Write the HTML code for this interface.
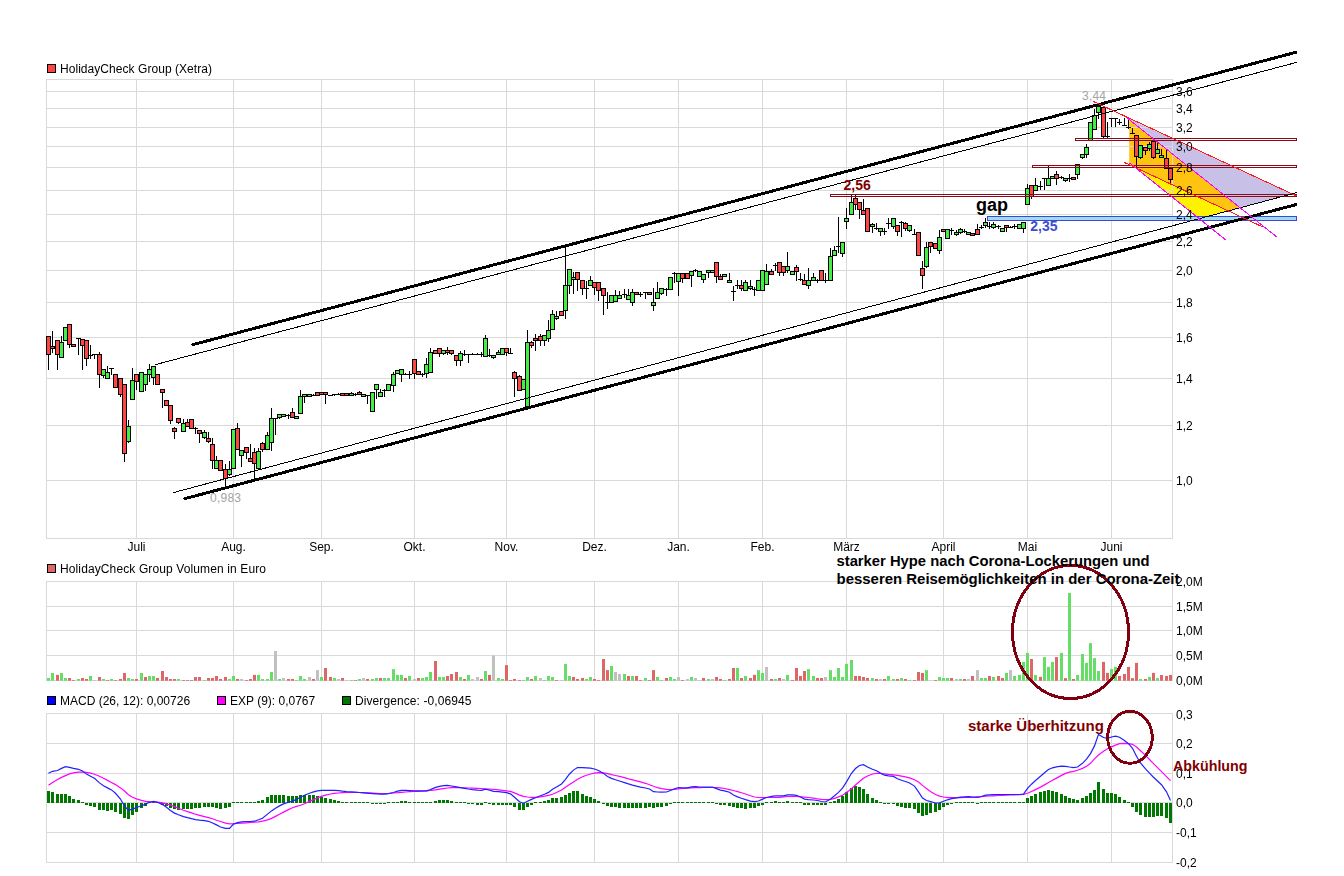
<!DOCTYPE html><html><head><meta charset="utf-8"><style>html,body{margin:0;padding:0;background:#fff;width:1344px;height:876px;overflow:hidden}svg{display:block}text{font-family:"Liberation Sans",sans-serif}</style></head><body><svg width="1344" height="876" viewBox="0 0 1344 876"><rect width="1344" height="876" fill="#fff"/><polygon points="1126.2,117.2 1292.0,193.9 1240.1,207.7" fill="#c8c0e6"/><polygon points="1129.2,119.6 1240.1,207.7 1228.3,210.9 1129.2,164.7" fill="#ffc412"/><polygon points="1129.2,164.7 1228.3,210.9 1199.2,218.7 1129.2,162.6" fill="#fff200"/><rect x="46.5" y="79.5" width="1126.0" height="459" fill="none" stroke="#d9d9d9" stroke-width="1"/><line x1="46.5" y1="91.5" x2="1172.5" y2="91.5" stroke="#d9d9d9" stroke-width="1"/><line x1="46.5" y1="108.5" x2="1172.5" y2="108.5" stroke="#d9d9d9" stroke-width="1"/><line x1="46.5" y1="127.5" x2="1172.5" y2="127.5" stroke="#d9d9d9" stroke-width="1"/><line x1="46.5" y1="146.5" x2="1172.5" y2="146.5" stroke="#d9d9d9" stroke-width="1"/><line x1="46.5" y1="167.5" x2="1172.5" y2="167.5" stroke="#d9d9d9" stroke-width="1"/><line x1="46.5" y1="190.5" x2="1172.5" y2="190.5" stroke="#d9d9d9" stroke-width="1"/><line x1="46.5" y1="214.5" x2="1172.5" y2="214.5" stroke="#d9d9d9" stroke-width="1"/><line x1="46.5" y1="241.5" x2="1172.5" y2="241.5" stroke="#d9d9d9" stroke-width="1"/><line x1="46.5" y1="270.5" x2="1172.5" y2="270.5" stroke="#d9d9d9" stroke-width="1"/><line x1="46.5" y1="302.5" x2="1172.5" y2="302.5" stroke="#d9d9d9" stroke-width="1"/><line x1="46.5" y1="337.5" x2="1172.5" y2="337.5" stroke="#d9d9d9" stroke-width="1"/><line x1="46.5" y1="378.5" x2="1172.5" y2="378.5" stroke="#d9d9d9" stroke-width="1"/><line x1="46.5" y1="425.5" x2="1172.5" y2="425.5" stroke="#d9d9d9" stroke-width="1"/><line x1="46.5" y1="480.5" x2="1172.5" y2="480.5" stroke="#d9d9d9" stroke-width="1"/><line x1="136.5" y1="79" x2="136.5" y2="538" stroke="#d9d9d9" stroke-width="1"/><line x1="233.5" y1="79" x2="233.5" y2="538" stroke="#d9d9d9" stroke-width="1"/><line x1="321.5" y1="79" x2="321.5" y2="538" stroke="#d9d9d9" stroke-width="1"/><line x1="414.5" y1="79" x2="414.5" y2="538" stroke="#d9d9d9" stroke-width="1"/><line x1="506.5" y1="79" x2="506.5" y2="538" stroke="#d9d9d9" stroke-width="1"/><line x1="594.5" y1="79" x2="594.5" y2="538" stroke="#d9d9d9" stroke-width="1"/><line x1="678.5" y1="79" x2="678.5" y2="538" stroke="#d9d9d9" stroke-width="1"/><line x1="762.5" y1="79" x2="762.5" y2="538" stroke="#d9d9d9" stroke-width="1"/><line x1="846.5" y1="79" x2="846.5" y2="538" stroke="#d9d9d9" stroke-width="1"/><line x1="943.5" y1="79" x2="943.5" y2="538" stroke="#d9d9d9" stroke-width="1"/><line x1="1027.5" y1="79" x2="1027.5" y2="538" stroke="#d9d9d9" stroke-width="1"/><line x1="1111.5" y1="79" x2="1111.5" y2="538" stroke="#d9d9d9" stroke-width="1"/><line x1="48.5" y1="336" x2="48.5" y2="370" stroke="#000" stroke-width="1"/><rect x="46.5" y="336.5" width="4" height="18" fill="#ff4444" stroke="#000" stroke-width="1"/><line x1="52.5" y1="331" x2="52.5" y2="353" stroke="#000" stroke-width="1"/><rect x="50.5" y="346.5" width="4" height="2" fill="#ff4444" stroke="#000" stroke-width="1"/><line x1="57.5" y1="340" x2="57.5" y2="370" stroke="#000" stroke-width="1"/><rect x="55.5" y="340.5" width="4" height="14" fill="#ff4444" stroke="#000" stroke-width="1"/><line x1="61.5" y1="336" x2="61.5" y2="358" stroke="#000" stroke-width="1"/><rect x="59.5" y="342.5" width="4" height="15" fill="#44ee44" stroke="#000" stroke-width="1"/><line x1="65.5" y1="327" x2="65.5" y2="341" stroke="#000" stroke-width="1"/><rect x="63.5" y="327.5" width="4" height="13" fill="#44ee44" stroke="#000" stroke-width="1"/><line x1="69.5" y1="324" x2="69.5" y2="348" stroke="#000" stroke-width="1"/><rect x="67.5" y="324.5" width="4" height="20" fill="#ff4444" stroke="#000" stroke-width="1"/><line x1="73.5" y1="344" x2="73.5" y2="347" stroke="#000" stroke-width="1"/><rect x="71.5" y="344.5" width="4" height="2" fill="#ff4444" stroke="#000" stroke-width="1"/><line x1="78.5" y1="338" x2="78.5" y2="355" stroke="#000" stroke-width="1"/><line x1="76" y1="338.5" x2="81" y2="338.5" stroke="#000" stroke-width="1"/><line x1="82.5" y1="339" x2="82.5" y2="370" stroke="#000" stroke-width="1"/><rect x="80.5" y="339.5" width="4" height="6" fill="#ff4444" stroke="#000" stroke-width="1"/><line x1="86.5" y1="340" x2="86.5" y2="366" stroke="#000" stroke-width="1"/><rect x="84.5" y="340.5" width="4" height="18" fill="#ff4444" stroke="#000" stroke-width="1"/><line x1="90.5" y1="345" x2="90.5" y2="359" stroke="#000" stroke-width="1"/><line x1="88" y1="355.5" x2="93" y2="355.5" stroke="#000" stroke-width="1"/><line x1="94.5" y1="354" x2="94.5" y2="359" stroke="#000" stroke-width="1"/><line x1="92" y1="354.5" x2="97" y2="354.5" stroke="#000" stroke-width="1"/><line x1="99.5" y1="352" x2="99.5" y2="388" stroke="#000" stroke-width="1"/><rect x="97.5" y="354.5" width="4" height="20" fill="#ff4444" stroke="#000" stroke-width="1"/><line x1="103.5" y1="369" x2="103.5" y2="378" stroke="#000" stroke-width="1"/><rect x="101.5" y="369.5" width="4" height="6" fill="#44ee44" stroke="#000" stroke-width="1"/><line x1="107.5" y1="366" x2="107.5" y2="379" stroke="#000" stroke-width="1"/><rect x="105.5" y="372.5" width="4" height="6" fill="#44ee44" stroke="#000" stroke-width="1"/><line x1="111.5" y1="368" x2="111.5" y2="375" stroke="#000" stroke-width="1"/><line x1="109" y1="368.5" x2="114" y2="368.5" stroke="#000" stroke-width="1"/><line x1="115.5" y1="374" x2="115.5" y2="388" stroke="#000" stroke-width="1"/><rect x="113.5" y="374.5" width="4" height="13" fill="#ff4444" stroke="#000" stroke-width="1"/><line x1="120.5" y1="378" x2="120.5" y2="397" stroke="#000" stroke-width="1"/><rect x="118.5" y="378.5" width="4" height="16" fill="#ff4444" stroke="#000" stroke-width="1"/><line x1="124.5" y1="384" x2="124.5" y2="462" stroke="#000" stroke-width="1"/><rect x="122.5" y="384.5" width="4" height="69" fill="#ff4444" stroke="#000" stroke-width="1"/><line x1="128.5" y1="420" x2="128.5" y2="443" stroke="#000" stroke-width="1"/><rect x="126.5" y="426.5" width="4" height="15" fill="#44ee44" stroke="#000" stroke-width="1"/><line x1="132.5" y1="368" x2="132.5" y2="400" stroke="#000" stroke-width="1"/><rect x="130.5" y="380.5" width="4" height="19" fill="#44ee44" stroke="#000" stroke-width="1"/><line x1="136.5" y1="374" x2="136.5" y2="390" stroke="#000" stroke-width="1"/><rect x="134.5" y="374.5" width="4" height="7" fill="#ff4444" stroke="#000" stroke-width="1"/><line x1="141.5" y1="372" x2="141.5" y2="392" stroke="#000" stroke-width="1"/><rect x="139.5" y="372.5" width="4" height="19" fill="#44ee44" stroke="#000" stroke-width="1"/><line x1="145.5" y1="374" x2="145.5" y2="391" stroke="#000" stroke-width="1"/><rect x="143.5" y="374.5" width="4" height="10" fill="#44ee44" stroke="#000" stroke-width="1"/><line x1="149.5" y1="364" x2="149.5" y2="382" stroke="#000" stroke-width="1"/><rect x="147.5" y="369.5" width="4" height="5" fill="#44ee44" stroke="#000" stroke-width="1"/><line x1="153.5" y1="366" x2="153.5" y2="385" stroke="#000" stroke-width="1"/><rect x="151.5" y="366.5" width="4" height="11" fill="#44ee44" stroke="#000" stroke-width="1"/><line x1="157.5" y1="374" x2="157.5" y2="385" stroke="#000" stroke-width="1"/><rect x="155.5" y="374.5" width="4" height="10" fill="#ff4444" stroke="#000" stroke-width="1"/><line x1="162.5" y1="389" x2="162.5" y2="408" stroke="#000" stroke-width="1"/><rect x="160.5" y="389.5" width="4" height="3" fill="#ff4444" stroke="#000" stroke-width="1"/><line x1="166.5" y1="400" x2="166.5" y2="406" stroke="#000" stroke-width="1"/><rect x="164.5" y="400.5" width="4" height="5" fill="#ff4444" stroke="#000" stroke-width="1"/><line x1="170.5" y1="405" x2="170.5" y2="424" stroke="#000" stroke-width="1"/><rect x="168.5" y="405.5" width="4" height="15" fill="#ff4444" stroke="#000" stroke-width="1"/><line x1="174.5" y1="427" x2="174.5" y2="439" stroke="#000" stroke-width="1"/><rect x="172.5" y="428.5" width="4" height="3" fill="#ff4444" stroke="#000" stroke-width="1"/><line x1="178.5" y1="418" x2="178.5" y2="424" stroke="#000" stroke-width="1"/><rect x="176.5" y="418.5" width="4" height="4" fill="#ff4444" stroke="#000" stroke-width="1"/><line x1="183.5" y1="419" x2="183.5" y2="432" stroke="#000" stroke-width="1"/><rect x="181.5" y="423.5" width="4" height="8" fill="#44ee44" stroke="#000" stroke-width="1"/><line x1="187.5" y1="419" x2="187.5" y2="427" stroke="#000" stroke-width="1"/><rect x="185.5" y="422.5" width="4" height="4" fill="#ff4444" stroke="#000" stroke-width="1"/><line x1="191.5" y1="419" x2="191.5" y2="429" stroke="#000" stroke-width="1"/><rect x="189.5" y="419.5" width="4" height="9" fill="#ff4444" stroke="#000" stroke-width="1"/><line x1="195.5" y1="427" x2="195.5" y2="434" stroke="#000" stroke-width="1"/><line x1="193" y1="428.5" x2="198" y2="428.5" stroke="#000" stroke-width="1"/><line x1="199.5" y1="430" x2="199.5" y2="443" stroke="#000" stroke-width="1"/><rect x="197.5" y="430.5" width="4" height="3" fill="#ff4444" stroke="#000" stroke-width="1"/><line x1="204.5" y1="430" x2="204.5" y2="439" stroke="#000" stroke-width="1"/><rect x="202.5" y="432.5" width="4" height="5" fill="#44ee44" stroke="#000" stroke-width="1"/><line x1="208.5" y1="432" x2="208.5" y2="443" stroke="#000" stroke-width="1"/><rect x="206.5" y="438.5" width="4" height="3" fill="#ff4444" stroke="#000" stroke-width="1"/><line x1="212.5" y1="438" x2="212.5" y2="469" stroke="#000" stroke-width="1"/><rect x="210.5" y="444.5" width="4" height="16" fill="#ff4444" stroke="#000" stroke-width="1"/><line x1="216.5" y1="456" x2="216.5" y2="469" stroke="#000" stroke-width="1"/><rect x="214.5" y="460.5" width="4" height="8" fill="#44ee44" stroke="#000" stroke-width="1"/><line x1="220.5" y1="460" x2="220.5" y2="471" stroke="#000" stroke-width="1"/><rect x="218.5" y="460.5" width="4" height="10" fill="#ff4444" stroke="#000" stroke-width="1"/><line x1="225.5" y1="464" x2="225.5" y2="487" stroke="#000" stroke-width="1"/><rect x="223.5" y="469.5" width="4" height="9" fill="#ff4444" stroke="#000" stroke-width="1"/><line x1="229.5" y1="461" x2="229.5" y2="476" stroke="#000" stroke-width="1"/><rect x="227.5" y="469.5" width="4" height="5" fill="#44ee44" stroke="#000" stroke-width="1"/><line x1="233.5" y1="429" x2="233.5" y2="469" stroke="#000" stroke-width="1"/><rect x="231.5" y="429.5" width="4" height="39" fill="#44ee44" stroke="#000" stroke-width="1"/><line x1="237.5" y1="423" x2="237.5" y2="450" stroke="#000" stroke-width="1"/><rect x="235.5" y="428.5" width="4" height="21" fill="#ff4444" stroke="#000" stroke-width="1"/><line x1="241.5" y1="450" x2="241.5" y2="467" stroke="#000" stroke-width="1"/><rect x="239.5" y="450.5" width="4" height="5" fill="#44ee44" stroke="#000" stroke-width="1"/><line x1="246.5" y1="447" x2="246.5" y2="459" stroke="#000" stroke-width="1"/><rect x="244.5" y="447.5" width="4" height="5" fill="#ff4444" stroke="#000" stroke-width="1"/><line x1="250.5" y1="444" x2="250.5" y2="462" stroke="#000" stroke-width="1"/><rect x="248.5" y="458.5" width="4" height="3" fill="#ff4444" stroke="#000" stroke-width="1"/><line x1="254.5" y1="448" x2="254.5" y2="479" stroke="#000" stroke-width="1"/><rect x="252.5" y="452.5" width="4" height="11" fill="#ff4444" stroke="#000" stroke-width="1"/><line x1="258.5" y1="448" x2="258.5" y2="470" stroke="#000" stroke-width="1"/><rect x="256.5" y="451.5" width="4" height="17" fill="#44ee44" stroke="#000" stroke-width="1"/><line x1="262.5" y1="442" x2="262.5" y2="452" stroke="#000" stroke-width="1"/><rect x="260.5" y="443.5" width="4" height="6" fill="#ff4444" stroke="#000" stroke-width="1"/><line x1="267.5" y1="432" x2="267.5" y2="450" stroke="#000" stroke-width="1"/><rect x="265.5" y="435.5" width="4" height="14" fill="#44ee44" stroke="#000" stroke-width="1"/><line x1="271.5" y1="408" x2="271.5" y2="451" stroke="#000" stroke-width="1"/><rect x="269.5" y="418.5" width="4" height="24" fill="#44ee44" stroke="#000" stroke-width="1"/><line x1="275.5" y1="418" x2="275.5" y2="435" stroke="#000" stroke-width="1"/><line x1="273" y1="418.5" x2="278" y2="418.5" stroke="#000" stroke-width="1"/><line x1="279.5" y1="414" x2="279.5" y2="419" stroke="#000" stroke-width="1"/><rect x="277.5" y="414.5" width="4" height="3" fill="#44ee44" stroke="#000" stroke-width="1"/><line x1="283.5" y1="414" x2="283.5" y2="416" stroke="#000" stroke-width="1"/><rect x="281.5" y="414.5" width="4" height="2" fill="#44ee44" stroke="#000" stroke-width="1"/><line x1="288.5" y1="414" x2="288.5" y2="419" stroke="#000" stroke-width="1"/><line x1="286" y1="415.5" x2="291" y2="415.5" stroke="#000" stroke-width="1"/><line x1="292.5" y1="408" x2="292.5" y2="418" stroke="#000" stroke-width="1"/><rect x="290.5" y="412.5" width="4" height="5" fill="#ff4444" stroke="#000" stroke-width="1"/><line x1="296.5" y1="416" x2="296.5" y2="419" stroke="#000" stroke-width="1"/><rect x="294.5" y="416.5" width="4" height="2" fill="#44ee44" stroke="#000" stroke-width="1"/><line x1="300.5" y1="390" x2="300.5" y2="414" stroke="#000" stroke-width="1"/><rect x="298.5" y="396.5" width="4" height="17" fill="#44ee44" stroke="#000" stroke-width="1"/><line x1="304.5" y1="394" x2="304.5" y2="403" stroke="#000" stroke-width="1"/><rect x="302.5" y="394.5" width="4" height="2" fill="#44ee44" stroke="#000" stroke-width="1"/><line x1="309.5" y1="394" x2="309.5" y2="396" stroke="#000" stroke-width="1"/><rect x="307.5" y="394.5" width="4" height="2" fill="#44ee44" stroke="#000" stroke-width="1"/><line x1="313.5" y1="394" x2="313.5" y2="396" stroke="#000" stroke-width="1"/><line x1="311" y1="395.5" x2="316" y2="395.5" stroke="#000" stroke-width="1"/><line x1="317.5" y1="392" x2="317.5" y2="396" stroke="#000" stroke-width="1"/><rect x="315.5" y="392.5" width="4" height="3" fill="#ff4444" stroke="#000" stroke-width="1"/><line x1="321.5" y1="392" x2="321.5" y2="394" stroke="#000" stroke-width="1"/><rect x="319.5" y="392.5" width="4" height="2" fill="#ff4444" stroke="#000" stroke-width="1"/><line x1="325.5" y1="392" x2="325.5" y2="404" stroke="#000" stroke-width="1"/><rect x="323.5" y="392.5" width="4" height="2" fill="#ff4444" stroke="#000" stroke-width="1"/><line x1="328" y1="395.5" x2="333" y2="395.5" stroke="#000" stroke-width="1"/><line x1="334.5" y1="394" x2="334.5" y2="396" stroke="#000" stroke-width="1"/><line x1="332" y1="394.5" x2="337" y2="394.5" stroke="#000" stroke-width="1"/><line x1="338.5" y1="393" x2="338.5" y2="395" stroke="#000" stroke-width="1"/><line x1="336" y1="394.5" x2="341" y2="394.5" stroke="#000" stroke-width="1"/><line x1="342.5" y1="393" x2="342.5" y2="396" stroke="#000" stroke-width="1"/><rect x="340.5" y="393.5" width="4" height="2" fill="#ff4444" stroke="#000" stroke-width="1"/><line x1="346.5" y1="393" x2="346.5" y2="396" stroke="#000" stroke-width="1"/><rect x="344.5" y="393.5" width="4" height="2" fill="#ff4444" stroke="#000" stroke-width="1"/><line x1="351.5" y1="392" x2="351.5" y2="395" stroke="#000" stroke-width="1"/><rect x="349.5" y="393.5" width="4" height="2" fill="#44ee44" stroke="#000" stroke-width="1"/><line x1="355.5" y1="393" x2="355.5" y2="396" stroke="#000" stroke-width="1"/><line x1="353" y1="394.5" x2="358" y2="394.5" stroke="#000" stroke-width="1"/><line x1="359.5" y1="391" x2="359.5" y2="395" stroke="#000" stroke-width="1"/><rect x="357.5" y="392.5" width="4" height="2" fill="#ff4444" stroke="#000" stroke-width="1"/><line x1="363.5" y1="394" x2="363.5" y2="396" stroke="#000" stroke-width="1"/><rect x="361.5" y="394.5" width="4" height="2" fill="#44ee44" stroke="#000" stroke-width="1"/><line x1="367.5" y1="395" x2="367.5" y2="404" stroke="#000" stroke-width="1"/><line x1="365" y1="395.5" x2="370" y2="395.5" stroke="#000" stroke-width="1"/><line x1="372.5" y1="392" x2="372.5" y2="412" stroke="#000" stroke-width="1"/><rect x="370.5" y="392.5" width="4" height="19" fill="#44ee44" stroke="#000" stroke-width="1"/><line x1="376.5" y1="384" x2="376.5" y2="399" stroke="#000" stroke-width="1"/><rect x="374.5" y="384.5" width="4" height="5" fill="#44ee44" stroke="#000" stroke-width="1"/><line x1="380.5" y1="389" x2="380.5" y2="397" stroke="#000" stroke-width="1"/><rect x="378.5" y="392.5" width="4" height="4" fill="#44ee44" stroke="#000" stroke-width="1"/><line x1="384.5" y1="389" x2="384.5" y2="397" stroke="#000" stroke-width="1"/><line x1="382" y1="390.5" x2="387" y2="390.5" stroke="#000" stroke-width="1"/><line x1="388.5" y1="384" x2="388.5" y2="391" stroke="#000" stroke-width="1"/><rect x="386.5" y="384.5" width="4" height="6" fill="#44ee44" stroke="#000" stroke-width="1"/><line x1="393.5" y1="372" x2="393.5" y2="392" stroke="#000" stroke-width="1"/><rect x="391.5" y="374.5" width="4" height="11" fill="#44ee44" stroke="#000" stroke-width="1"/><line x1="397.5" y1="370" x2="397.5" y2="374" stroke="#000" stroke-width="1"/><rect x="395.5" y="370.5" width="4" height="3" fill="#44ee44" stroke="#000" stroke-width="1"/><line x1="401.5" y1="369" x2="401.5" y2="382" stroke="#000" stroke-width="1"/><rect x="399.5" y="369.5" width="4" height="5" fill="#44ee44" stroke="#000" stroke-width="1"/><line x1="405.5" y1="373" x2="405.5" y2="375" stroke="#000" stroke-width="1"/><line x1="403" y1="374.5" x2="408" y2="374.5" stroke="#000" stroke-width="1"/><line x1="409.5" y1="371" x2="409.5" y2="379" stroke="#000" stroke-width="1"/><line x1="407" y1="374.5" x2="412" y2="374.5" stroke="#000" stroke-width="1"/><line x1="414.5" y1="359" x2="414.5" y2="379" stroke="#000" stroke-width="1"/><rect x="412.5" y="359.5" width="4" height="14" fill="#ff4444" stroke="#000" stroke-width="1"/><line x1="418.5" y1="371" x2="418.5" y2="375" stroke="#000" stroke-width="1"/><rect x="416.5" y="371.5" width="4" height="3" fill="#ff4444" stroke="#000" stroke-width="1"/><line x1="422.5" y1="373" x2="422.5" y2="377" stroke="#000" stroke-width="1"/><line x1="420" y1="374.5" x2="425" y2="374.5" stroke="#000" stroke-width="1"/><line x1="426.5" y1="358" x2="426.5" y2="378" stroke="#000" stroke-width="1"/><rect x="424.5" y="364.5" width="4" height="9" fill="#44ee44" stroke="#000" stroke-width="1"/><line x1="430.5" y1="348" x2="430.5" y2="373" stroke="#000" stroke-width="1"/><rect x="428.5" y="352.5" width="4" height="20" fill="#44ee44" stroke="#000" stroke-width="1"/><line x1="435.5" y1="350" x2="435.5" y2="354" stroke="#000" stroke-width="1"/><rect x="433.5" y="350.5" width="4" height="3" fill="#ff4444" stroke="#000" stroke-width="1"/><line x1="439.5" y1="348" x2="439.5" y2="357" stroke="#000" stroke-width="1"/><rect x="437.5" y="348.5" width="4" height="5" fill="#ff4444" stroke="#000" stroke-width="1"/><line x1="443.5" y1="350" x2="443.5" y2="355" stroke="#000" stroke-width="1"/><rect x="441.5" y="350.5" width="4" height="3" fill="#44ee44" stroke="#000" stroke-width="1"/><line x1="447.5" y1="347" x2="447.5" y2="355" stroke="#000" stroke-width="1"/><rect x="445.5" y="350.5" width="4" height="2" fill="#ff4444" stroke="#000" stroke-width="1"/><line x1="451.5" y1="350" x2="451.5" y2="355" stroke="#000" stroke-width="1"/><rect x="449.5" y="350.5" width="4" height="3" fill="#ff4444" stroke="#000" stroke-width="1"/><line x1="456.5" y1="355" x2="456.5" y2="366" stroke="#000" stroke-width="1"/><rect x="454.5" y="355.5" width="4" height="5" fill="#ff4444" stroke="#000" stroke-width="1"/><line x1="460.5" y1="351" x2="460.5" y2="366" stroke="#000" stroke-width="1"/><rect x="458.5" y="353.5" width="4" height="7" fill="#44ee44" stroke="#000" stroke-width="1"/><line x1="464.5" y1="350" x2="464.5" y2="356" stroke="#000" stroke-width="1"/><line x1="462" y1="354.5" x2="467" y2="354.5" stroke="#000" stroke-width="1"/><line x1="468.5" y1="354" x2="468.5" y2="363" stroke="#000" stroke-width="1"/><line x1="466" y1="354.5" x2="471" y2="354.5" stroke="#000" stroke-width="1"/><line x1="472.5" y1="353" x2="472.5" y2="355" stroke="#000" stroke-width="1"/><line x1="470" y1="354.5" x2="475" y2="354.5" stroke="#000" stroke-width="1"/><line x1="477.5" y1="353" x2="477.5" y2="355" stroke="#000" stroke-width="1"/><line x1="475" y1="354.5" x2="480" y2="354.5" stroke="#000" stroke-width="1"/><line x1="481.5" y1="352" x2="481.5" y2="357" stroke="#000" stroke-width="1"/><line x1="479" y1="354.5" x2="484" y2="354.5" stroke="#000" stroke-width="1"/><line x1="485.5" y1="335" x2="485.5" y2="357" stroke="#000" stroke-width="1"/><rect x="483.5" y="338.5" width="4" height="18" fill="#44ee44" stroke="#000" stroke-width="1"/><line x1="489.5" y1="349" x2="489.5" y2="357" stroke="#000" stroke-width="1"/><line x1="487" y1="355.5" x2="492" y2="355.5" stroke="#000" stroke-width="1"/><line x1="493.5" y1="355" x2="493.5" y2="359" stroke="#000" stroke-width="1"/><rect x="491.5" y="355.5" width="4" height="2" fill="#44ee44" stroke="#000" stroke-width="1"/><line x1="498.5" y1="350" x2="498.5" y2="355" stroke="#000" stroke-width="1"/><rect x="496.5" y="352.5" width="4" height="2" fill="#44ee44" stroke="#000" stroke-width="1"/><line x1="502.5" y1="348" x2="502.5" y2="355" stroke="#000" stroke-width="1"/><rect x="500.5" y="348.5" width="4" height="6" fill="#44ee44" stroke="#000" stroke-width="1"/><line x1="506.5" y1="348" x2="506.5" y2="356" stroke="#000" stroke-width="1"/><rect x="504.5" y="348.5" width="4" height="4" fill="#ff4444" stroke="#000" stroke-width="1"/><line x1="510.5" y1="348" x2="510.5" y2="354" stroke="#000" stroke-width="1"/><line x1="508" y1="353.5" x2="513" y2="353.5" stroke="#000" stroke-width="1"/><line x1="514.5" y1="371" x2="514.5" y2="397" stroke="#000" stroke-width="1"/><rect x="512.5" y="372.5" width="4" height="6" fill="#ff4444" stroke="#000" stroke-width="1"/><line x1="519.5" y1="375" x2="519.5" y2="391" stroke="#000" stroke-width="1"/><rect x="517.5" y="376.5" width="4" height="14" fill="#ff4444" stroke="#000" stroke-width="1"/><line x1="523.5" y1="379" x2="523.5" y2="390" stroke="#000" stroke-width="1"/><rect x="521.5" y="379.5" width="4" height="10" fill="#44ee44" stroke="#000" stroke-width="1"/><line x1="527.5" y1="330" x2="527.5" y2="407" stroke="#000" stroke-width="1"/><rect x="525.5" y="342.5" width="4" height="64" fill="#44ee44" stroke="#000" stroke-width="1"/><line x1="531.5" y1="341" x2="531.5" y2="348" stroke="#000" stroke-width="1"/><rect x="529.5" y="342.5" width="4" height="3" fill="#ff4444" stroke="#000" stroke-width="1"/><line x1="535.5" y1="334" x2="535.5" y2="351" stroke="#000" stroke-width="1"/><rect x="533.5" y="338.5" width="4" height="2" fill="#ff4444" stroke="#000" stroke-width="1"/><line x1="540.5" y1="334" x2="540.5" y2="346" stroke="#000" stroke-width="1"/><rect x="538.5" y="336.5" width="4" height="4" fill="#ff4444" stroke="#000" stroke-width="1"/><line x1="544.5" y1="335" x2="544.5" y2="346" stroke="#000" stroke-width="1"/><rect x="542.5" y="335.5" width="4" height="5" fill="#44ee44" stroke="#000" stroke-width="1"/><line x1="548.5" y1="320" x2="548.5" y2="342" stroke="#000" stroke-width="1"/><rect x="546.5" y="330.5" width="4" height="8" fill="#44ee44" stroke="#000" stroke-width="1"/><line x1="552.5" y1="310" x2="552.5" y2="330" stroke="#000" stroke-width="1"/><rect x="550.5" y="314.5" width="4" height="15" fill="#44ee44" stroke="#000" stroke-width="1"/><line x1="556.5" y1="311" x2="556.5" y2="320" stroke="#000" stroke-width="1"/><rect x="554.5" y="316.5" width="4" height="2" fill="#44ee44" stroke="#000" stroke-width="1"/><line x1="561.5" y1="311" x2="561.5" y2="316" stroke="#000" stroke-width="1"/><rect x="559.5" y="311.5" width="4" height="4" fill="#ff4444" stroke="#000" stroke-width="1"/><line x1="565.5" y1="247" x2="565.5" y2="319" stroke="#000" stroke-width="1"/><rect x="563.5" y="285.5" width="4" height="25" fill="#44ee44" stroke="#000" stroke-width="1"/><line x1="569.5" y1="269" x2="569.5" y2="294" stroke="#000" stroke-width="1"/><rect x="567.5" y="269.5" width="4" height="16" fill="#44ee44" stroke="#000" stroke-width="1"/><line x1="573.5" y1="272" x2="573.5" y2="294" stroke="#000" stroke-width="1"/><rect x="571.5" y="277.5" width="4" height="2" fill="#44ee44" stroke="#000" stroke-width="1"/><line x1="577.5" y1="272" x2="577.5" y2="291" stroke="#000" stroke-width="1"/><rect x="575.5" y="272.5" width="4" height="7" fill="#ff4444" stroke="#000" stroke-width="1"/><line x1="582.5" y1="280" x2="582.5" y2="295" stroke="#000" stroke-width="1"/><rect x="580.5" y="280.5" width="4" height="8" fill="#ff4444" stroke="#000" stroke-width="1"/><line x1="586.5" y1="281" x2="586.5" y2="299" stroke="#000" stroke-width="1"/><line x1="584" y1="288.5" x2="589" y2="288.5" stroke="#000" stroke-width="1"/><line x1="590.5" y1="276" x2="590.5" y2="286" stroke="#000" stroke-width="1"/><rect x="588.5" y="280.5" width="4" height="5" fill="#44ee44" stroke="#000" stroke-width="1"/><line x1="594.5" y1="282" x2="594.5" y2="295" stroke="#000" stroke-width="1"/><rect x="592.5" y="282.5" width="4" height="5" fill="#ff4444" stroke="#000" stroke-width="1"/><line x1="598.5" y1="282" x2="598.5" y2="301" stroke="#000" stroke-width="1"/><rect x="596.5" y="282.5" width="4" height="8" fill="#ff4444" stroke="#000" stroke-width="1"/><line x1="603.5" y1="288" x2="603.5" y2="315" stroke="#000" stroke-width="1"/><rect x="601.5" y="288.5" width="4" height="7" fill="#ff4444" stroke="#000" stroke-width="1"/><line x1="607.5" y1="292" x2="607.5" y2="309" stroke="#000" stroke-width="1"/><line x1="605" y1="302.5" x2="610" y2="302.5" stroke="#000" stroke-width="1"/><line x1="611.5" y1="295" x2="611.5" y2="303" stroke="#000" stroke-width="1"/><rect x="609.5" y="295.5" width="4" height="7" fill="#44ee44" stroke="#000" stroke-width="1"/><line x1="615.5" y1="290" x2="615.5" y2="302" stroke="#000" stroke-width="1"/><rect x="613.5" y="295.5" width="4" height="6" fill="#44ee44" stroke="#000" stroke-width="1"/><line x1="619.5" y1="291" x2="619.5" y2="299" stroke="#000" stroke-width="1"/><rect x="617.5" y="295.5" width="4" height="3" fill="#44ee44" stroke="#000" stroke-width="1"/><line x1="624.5" y1="289" x2="624.5" y2="298" stroke="#000" stroke-width="1"/><line x1="622" y1="294.5" x2="627" y2="294.5" stroke="#000" stroke-width="1"/><line x1="628.5" y1="289" x2="628.5" y2="300" stroke="#000" stroke-width="1"/><rect x="626.5" y="295.5" width="4" height="4" fill="#44ee44" stroke="#000" stroke-width="1"/><line x1="632.5" y1="289" x2="632.5" y2="306" stroke="#000" stroke-width="1"/><rect x="630.5" y="292.5" width="4" height="10" fill="#44ee44" stroke="#000" stroke-width="1"/><line x1="636.5" y1="292" x2="636.5" y2="294" stroke="#000" stroke-width="1"/><rect x="634.5" y="292.5" width="4" height="2" fill="#ff4444" stroke="#000" stroke-width="1"/><line x1="640.5" y1="292" x2="640.5" y2="297" stroke="#000" stroke-width="1"/><line x1="638" y1="294.5" x2="643" y2="294.5" stroke="#000" stroke-width="1"/><line x1="645.5" y1="292" x2="645.5" y2="299" stroke="#000" stroke-width="1"/><line x1="643" y1="292.5" x2="648" y2="292.5" stroke="#000" stroke-width="1"/><line x1="649.5" y1="292" x2="649.5" y2="294" stroke="#000" stroke-width="1"/><rect x="647.5" y="292.5" width="4" height="2" fill="#ff4444" stroke="#000" stroke-width="1"/><line x1="653.5" y1="288" x2="653.5" y2="311" stroke="#000" stroke-width="1"/><rect x="651.5" y="302.5" width="4" height="3" fill="#44ee44" stroke="#000" stroke-width="1"/><line x1="657.5" y1="282" x2="657.5" y2="299" stroke="#000" stroke-width="1"/><rect x="655.5" y="292.5" width="4" height="6" fill="#44ee44" stroke="#000" stroke-width="1"/><line x1="661.5" y1="288" x2="661.5" y2="295" stroke="#000" stroke-width="1"/><rect x="659.5" y="288.5" width="4" height="5" fill="#44ee44" stroke="#000" stroke-width="1"/><line x1="666.5" y1="288" x2="666.5" y2="296" stroke="#000" stroke-width="1"/><line x1="664" y1="289.5" x2="669" y2="289.5" stroke="#000" stroke-width="1"/><line x1="670.5" y1="277" x2="670.5" y2="290" stroke="#000" stroke-width="1"/><rect x="668.5" y="277.5" width="4" height="12" fill="#44ee44" stroke="#000" stroke-width="1"/><line x1="674.5" y1="272" x2="674.5" y2="283" stroke="#000" stroke-width="1"/><line x1="672" y1="273.5" x2="677" y2="273.5" stroke="#000" stroke-width="1"/><line x1="678.5" y1="273" x2="678.5" y2="296" stroke="#000" stroke-width="1"/><rect x="676.5" y="273.5" width="4" height="8" fill="#44ee44" stroke="#000" stroke-width="1"/><line x1="682.5" y1="273" x2="682.5" y2="283" stroke="#000" stroke-width="1"/><rect x="680.5" y="273.5" width="4" height="5" fill="#ff4444" stroke="#000" stroke-width="1"/><line x1="687.5" y1="273" x2="687.5" y2="279" stroke="#000" stroke-width="1"/><rect x="685.5" y="273.5" width="4" height="5" fill="#ff4444" stroke="#000" stroke-width="1"/><line x1="691.5" y1="271" x2="691.5" y2="287" stroke="#000" stroke-width="1"/><rect x="689.5" y="271.5" width="4" height="4" fill="#44ee44" stroke="#000" stroke-width="1"/><line x1="695.5" y1="269" x2="695.5" y2="272" stroke="#000" stroke-width="1"/><line x1="693" y1="270.5" x2="698" y2="270.5" stroke="#000" stroke-width="1"/><line x1="699.5" y1="271" x2="699.5" y2="277" stroke="#000" stroke-width="1"/><rect x="697.5" y="271.5" width="4" height="5" fill="#44ee44" stroke="#000" stroke-width="1"/><line x1="703.5" y1="274" x2="703.5" y2="283" stroke="#000" stroke-width="1"/><rect x="701.5" y="274.5" width="4" height="5" fill="#44ee44" stroke="#000" stroke-width="1"/><line x1="708.5" y1="270" x2="708.5" y2="278" stroke="#000" stroke-width="1"/><rect x="706.5" y="270.5" width="4" height="2" fill="#44ee44" stroke="#000" stroke-width="1"/><line x1="712.5" y1="270" x2="712.5" y2="273" stroke="#000" stroke-width="1"/><rect x="710.5" y="270.5" width="4" height="2" fill="#44ee44" stroke="#000" stroke-width="1"/><line x1="716.5" y1="262" x2="716.5" y2="283" stroke="#000" stroke-width="1"/><rect x="714.5" y="262.5" width="4" height="14" fill="#ff4444" stroke="#000" stroke-width="1"/><line x1="720.5" y1="274" x2="720.5" y2="280" stroke="#000" stroke-width="1"/><rect x="718.5" y="276.5" width="4" height="3" fill="#ff4444" stroke="#000" stroke-width="1"/><line x1="724.5" y1="274" x2="724.5" y2="277" stroke="#000" stroke-width="1"/><rect x="722.5" y="274.5" width="4" height="2" fill="#44ee44" stroke="#000" stroke-width="1"/><line x1="729.5" y1="273" x2="729.5" y2="283" stroke="#000" stroke-width="1"/><rect x="727.5" y="280.5" width="4" height="2" fill="#44ee44" stroke="#000" stroke-width="1"/><line x1="733.5" y1="286" x2="733.5" y2="301" stroke="#000" stroke-width="1"/><line x1="731" y1="291.5" x2="736" y2="291.5" stroke="#000" stroke-width="1"/><line x1="737.5" y1="280" x2="737.5" y2="289" stroke="#000" stroke-width="1"/><line x1="735" y1="285.5" x2="740" y2="285.5" stroke="#000" stroke-width="1"/><line x1="741.5" y1="280" x2="741.5" y2="291" stroke="#000" stroke-width="1"/><rect x="739.5" y="285.5" width="4" height="3" fill="#ff4444" stroke="#000" stroke-width="1"/><line x1="745.5" y1="280" x2="745.5" y2="291" stroke="#000" stroke-width="1"/><rect x="743.5" y="282.5" width="4" height="8" fill="#44ee44" stroke="#000" stroke-width="1"/><line x1="750.5" y1="280" x2="750.5" y2="290" stroke="#000" stroke-width="1"/><rect x="748.5" y="286.5" width="4" height="2" fill="#44ee44" stroke="#000" stroke-width="1"/><line x1="754.5" y1="287" x2="754.5" y2="296" stroke="#000" stroke-width="1"/><line x1="752" y1="289.5" x2="757" y2="289.5" stroke="#000" stroke-width="1"/><line x1="758.5" y1="280" x2="758.5" y2="291" stroke="#000" stroke-width="1"/><rect x="756.5" y="280.5" width="4" height="10" fill="#44ee44" stroke="#000" stroke-width="1"/><line x1="762.5" y1="270" x2="762.5" y2="291" stroke="#000" stroke-width="1"/><rect x="760.5" y="270.5" width="4" height="20" fill="#44ee44" stroke="#000" stroke-width="1"/><line x1="766.5" y1="264" x2="766.5" y2="285" stroke="#000" stroke-width="1"/><rect x="764.5" y="271.5" width="4" height="13" fill="#44ee44" stroke="#000" stroke-width="1"/><line x1="771.5" y1="269" x2="771.5" y2="275" stroke="#000" stroke-width="1"/><rect x="769.5" y="271.5" width="4" height="3" fill="#ff4444" stroke="#000" stroke-width="1"/><line x1="775.5" y1="263" x2="775.5" y2="271" stroke="#000" stroke-width="1"/><line x1="773" y1="265.5" x2="778" y2="265.5" stroke="#000" stroke-width="1"/><line x1="779.5" y1="262" x2="779.5" y2="276" stroke="#000" stroke-width="1"/><rect x="777.5" y="262.5" width="4" height="10" fill="#ff4444" stroke="#000" stroke-width="1"/><line x1="783.5" y1="266" x2="783.5" y2="276" stroke="#000" stroke-width="1"/><rect x="781.5" y="266.5" width="4" height="6" fill="#ff4444" stroke="#000" stroke-width="1"/><line x1="787.5" y1="252" x2="787.5" y2="273" stroke="#000" stroke-width="1"/><rect x="785.5" y="266.5" width="4" height="4" fill="#44ee44" stroke="#000" stroke-width="1"/><line x1="792.5" y1="271" x2="792.5" y2="275" stroke="#000" stroke-width="1"/><rect x="790.5" y="271.5" width="4" height="3" fill="#44ee44" stroke="#000" stroke-width="1"/><line x1="796.5" y1="265" x2="796.5" y2="281" stroke="#000" stroke-width="1"/><rect x="794.5" y="267.5" width="4" height="4" fill="#ff4444" stroke="#000" stroke-width="1"/><line x1="800.5" y1="273" x2="800.5" y2="281" stroke="#000" stroke-width="1"/><line x1="798" y1="279.5" x2="803" y2="279.5" stroke="#000" stroke-width="1"/><line x1="804.5" y1="274" x2="804.5" y2="285" stroke="#000" stroke-width="1"/><rect x="802.5" y="280.5" width="4" height="4" fill="#ff4444" stroke="#000" stroke-width="1"/><line x1="808.5" y1="268" x2="808.5" y2="289" stroke="#000" stroke-width="1"/><rect x="806.5" y="280.5" width="4" height="5" fill="#44ee44" stroke="#000" stroke-width="1"/><line x1="813.5" y1="273" x2="813.5" y2="281" stroke="#000" stroke-width="1"/><rect x="811.5" y="277.5" width="4" height="3" fill="#44ee44" stroke="#000" stroke-width="1"/><line x1="817.5" y1="279" x2="817.5" y2="283" stroke="#000" stroke-width="1"/><line x1="815" y1="280.5" x2="820" y2="280.5" stroke="#000" stroke-width="1"/><line x1="821.5" y1="270" x2="821.5" y2="281" stroke="#000" stroke-width="1"/><rect x="819.5" y="270.5" width="4" height="10" fill="#ff4444" stroke="#000" stroke-width="1"/><line x1="825.5" y1="273" x2="825.5" y2="283" stroke="#000" stroke-width="1"/><line x1="823" y1="280.5" x2="828" y2="280.5" stroke="#000" stroke-width="1"/><line x1="830.5" y1="248" x2="830.5" y2="281" stroke="#000" stroke-width="1"/><rect x="828.5" y="256.5" width="4" height="24" fill="#44ee44" stroke="#000" stroke-width="1"/><line x1="834.5" y1="246" x2="834.5" y2="256" stroke="#000" stroke-width="1"/><rect x="832.5" y="250.5" width="4" height="5" fill="#44ee44" stroke="#000" stroke-width="1"/><line x1="838.5" y1="217" x2="838.5" y2="253" stroke="#000" stroke-width="1"/><line x1="836" y1="246.5" x2="841" y2="246.5" stroke="#000" stroke-width="1"/><line x1="842.5" y1="242" x2="842.5" y2="257" stroke="#000" stroke-width="1"/><rect x="840.5" y="242.5" width="4" height="11" fill="#44ee44" stroke="#000" stroke-width="1"/><line x1="846.5" y1="208" x2="846.5" y2="229" stroke="#000" stroke-width="1"/><rect x="844.5" y="218.5" width="4" height="3" fill="#44ee44" stroke="#000" stroke-width="1"/><line x1="851.5" y1="195" x2="851.5" y2="215" stroke="#000" stroke-width="1"/><rect x="849.5" y="202.5" width="4" height="12" fill="#44ee44" stroke="#000" stroke-width="1"/><line x1="855.5" y1="195" x2="855.5" y2="210" stroke="#000" stroke-width="1"/><rect x="853.5" y="198.5" width="4" height="6" fill="#ff4444" stroke="#000" stroke-width="1"/><line x1="859.5" y1="202" x2="859.5" y2="219" stroke="#000" stroke-width="1"/><rect x="857.5" y="202.5" width="4" height="7" fill="#ff4444" stroke="#000" stroke-width="1"/><line x1="863.5" y1="199" x2="863.5" y2="215" stroke="#000" stroke-width="1"/><rect x="861.5" y="210.5" width="4" height="4" fill="#ff4444" stroke="#000" stroke-width="1"/><line x1="867.5" y1="208" x2="867.5" y2="232" stroke="#000" stroke-width="1"/><rect x="865.5" y="208.5" width="4" height="23" fill="#ff4444" stroke="#000" stroke-width="1"/><line x1="872.5" y1="223" x2="872.5" y2="233" stroke="#000" stroke-width="1"/><rect x="870.5" y="224.5" width="4" height="2" fill="#44ee44" stroke="#000" stroke-width="1"/><line x1="876.5" y1="223" x2="876.5" y2="230" stroke="#000" stroke-width="1"/><line x1="874" y1="228.5" x2="879" y2="228.5" stroke="#000" stroke-width="1"/><line x1="880.5" y1="228" x2="880.5" y2="236" stroke="#000" stroke-width="1"/><rect x="878.5" y="228.5" width="4" height="3" fill="#44ee44" stroke="#000" stroke-width="1"/><line x1="884.5" y1="228" x2="884.5" y2="235" stroke="#000" stroke-width="1"/><line x1="882" y1="231.5" x2="887" y2="231.5" stroke="#000" stroke-width="1"/><line x1="888.5" y1="218" x2="888.5" y2="229" stroke="#000" stroke-width="1"/><line x1="886" y1="223.5" x2="891" y2="223.5" stroke="#000" stroke-width="1"/><line x1="893.5" y1="218" x2="893.5" y2="229" stroke="#000" stroke-width="1"/><rect x="891.5" y="218.5" width="4" height="8" fill="#44ee44" stroke="#000" stroke-width="1"/><line x1="897.5" y1="225" x2="897.5" y2="236" stroke="#000" stroke-width="1"/><rect x="895.5" y="225.5" width="4" height="6" fill="#ff4444" stroke="#000" stroke-width="1"/><line x1="901.5" y1="221" x2="901.5" y2="237" stroke="#000" stroke-width="1"/><line x1="899" y1="222.5" x2="904" y2="222.5" stroke="#000" stroke-width="1"/><line x1="905.5" y1="222" x2="905.5" y2="231" stroke="#000" stroke-width="1"/><rect x="903.5" y="223.5" width="4" height="5" fill="#ff4444" stroke="#000" stroke-width="1"/><line x1="909.5" y1="225" x2="909.5" y2="232" stroke="#000" stroke-width="1"/><rect x="907.5" y="225.5" width="4" height="5" fill="#44ee44" stroke="#000" stroke-width="1"/><line x1="914.5" y1="229" x2="914.5" y2="235" stroke="#000" stroke-width="1"/><line x1="912" y1="234.5" x2="917" y2="234.5" stroke="#000" stroke-width="1"/><line x1="918.5" y1="232" x2="918.5" y2="256" stroke="#000" stroke-width="1"/><rect x="916.5" y="232.5" width="4" height="23" fill="#ff4444" stroke="#000" stroke-width="1"/><line x1="922.5" y1="261" x2="922.5" y2="289" stroke="#000" stroke-width="1"/><rect x="920.5" y="268.5" width="4" height="7" fill="#ff4444" stroke="#000" stroke-width="1"/><line x1="926.5" y1="242" x2="926.5" y2="268" stroke="#000" stroke-width="1"/><rect x="924.5" y="247.5" width="4" height="19" fill="#44ee44" stroke="#000" stroke-width="1"/><line x1="930.5" y1="242" x2="930.5" y2="253" stroke="#000" stroke-width="1"/><rect x="928.5" y="242.5" width="4" height="4" fill="#ff4444" stroke="#000" stroke-width="1"/><line x1="935.5" y1="243" x2="935.5" y2="249" stroke="#000" stroke-width="1"/><rect x="933.5" y="243.5" width="4" height="5" fill="#ff4444" stroke="#000" stroke-width="1"/><line x1="939.5" y1="230" x2="939.5" y2="254" stroke="#000" stroke-width="1"/><rect x="937.5" y="237.5" width="4" height="13" fill="#44ee44" stroke="#000" stroke-width="1"/><line x1="943.5" y1="229" x2="943.5" y2="232" stroke="#000" stroke-width="1"/><rect x="941.5" y="229.5" width="4" height="2" fill="#ff4444" stroke="#000" stroke-width="1"/><line x1="947.5" y1="229" x2="947.5" y2="239" stroke="#000" stroke-width="1"/><rect x="945.5" y="229.5" width="4" height="9" fill="#44ee44" stroke="#000" stroke-width="1"/><line x1="951.5" y1="228" x2="951.5" y2="235" stroke="#000" stroke-width="1"/><line x1="949" y1="230.5" x2="954" y2="230.5" stroke="#000" stroke-width="1"/><line x1="956.5" y1="230" x2="956.5" y2="236" stroke="#000" stroke-width="1"/><rect x="954.5" y="232.5" width="4" height="2" fill="#44ee44" stroke="#000" stroke-width="1"/><line x1="960.5" y1="228" x2="960.5" y2="234" stroke="#000" stroke-width="1"/><rect x="958.5" y="229.5" width="4" height="3" fill="#44ee44" stroke="#000" stroke-width="1"/><line x1="964.5" y1="229" x2="964.5" y2="233" stroke="#000" stroke-width="1"/><line x1="962" y1="231.5" x2="967" y2="231.5" stroke="#000" stroke-width="1"/><line x1="968.5" y1="232" x2="968.5" y2="235" stroke="#000" stroke-width="1"/><rect x="966.5" y="232.5" width="4" height="2" fill="#44ee44" stroke="#000" stroke-width="1"/><line x1="972.5" y1="233" x2="972.5" y2="235" stroke="#000" stroke-width="1"/><rect x="970.5" y="233.5" width="4" height="2" fill="#ff4444" stroke="#000" stroke-width="1"/><line x1="977.5" y1="224" x2="977.5" y2="235" stroke="#000" stroke-width="1"/><rect x="975.5" y="229.5" width="4" height="5" fill="#ff4444" stroke="#000" stroke-width="1"/><line x1="981.5" y1="225" x2="981.5" y2="229" stroke="#000" stroke-width="1"/><line x1="979" y1="227.5" x2="984" y2="227.5" stroke="#000" stroke-width="1"/><line x1="985.5" y1="218" x2="985.5" y2="228" stroke="#000" stroke-width="1"/><rect x="983.5" y="222.5" width="4" height="3" fill="#44ee44" stroke="#000" stroke-width="1"/><line x1="989.5" y1="222" x2="989.5" y2="229" stroke="#000" stroke-width="1"/><line x1="987" y1="226.5" x2="992" y2="226.5" stroke="#000" stroke-width="1"/><line x1="993.5" y1="222" x2="993.5" y2="229" stroke="#000" stroke-width="1"/><rect x="991.5" y="224.5" width="4" height="3" fill="#44ee44" stroke="#000" stroke-width="1"/><line x1="998.5" y1="225" x2="998.5" y2="229" stroke="#000" stroke-width="1"/><line x1="996" y1="226.5" x2="1001" y2="226.5" stroke="#000" stroke-width="1"/><line x1="1002.5" y1="228" x2="1002.5" y2="232" stroke="#000" stroke-width="1"/><rect x="1000.5" y="228.5" width="4" height="3" fill="#44ee44" stroke="#000" stroke-width="1"/><line x1="1006.5" y1="225" x2="1006.5" y2="232" stroke="#000" stroke-width="1"/><rect x="1004.5" y="225.5" width="4" height="2" fill="#ff4444" stroke="#000" stroke-width="1"/><line x1="1010.5" y1="226" x2="1010.5" y2="228" stroke="#000" stroke-width="1"/><line x1="1008" y1="227.5" x2="1013" y2="227.5" stroke="#000" stroke-width="1"/><line x1="1014.5" y1="224" x2="1014.5" y2="229" stroke="#000" stroke-width="1"/><line x1="1012" y1="226.5" x2="1017" y2="226.5" stroke="#000" stroke-width="1"/><line x1="1019.5" y1="224" x2="1019.5" y2="229" stroke="#000" stroke-width="1"/><rect x="1017.5" y="224.5" width="4" height="4" fill="#44ee44" stroke="#000" stroke-width="1"/><line x1="1023.5" y1="222" x2="1023.5" y2="233" stroke="#000" stroke-width="1"/><rect x="1021.5" y="222.5" width="4" height="6" fill="#44ee44" stroke="#000" stroke-width="1"/><line x1="1027.5" y1="184" x2="1027.5" y2="205" stroke="#000" stroke-width="1"/><rect x="1025.5" y="188.5" width="4" height="16" fill="#44ee44" stroke="#000" stroke-width="1"/><line x1="1031.5" y1="185" x2="1031.5" y2="199" stroke="#000" stroke-width="1"/><rect x="1029.5" y="185.5" width="4" height="11" fill="#ff4444" stroke="#000" stroke-width="1"/><line x1="1035.5" y1="178" x2="1035.5" y2="191" stroke="#000" stroke-width="1"/><rect x="1033.5" y="185.5" width="4" height="5" fill="#44ee44" stroke="#000" stroke-width="1"/><line x1="1040.5" y1="181" x2="1040.5" y2="190" stroke="#000" stroke-width="1"/><line x1="1038" y1="186.5" x2="1043" y2="186.5" stroke="#000" stroke-width="1"/><line x1="1044.5" y1="178" x2="1044.5" y2="190" stroke="#000" stroke-width="1"/><line x1="1042" y1="178.5" x2="1047" y2="178.5" stroke="#000" stroke-width="1"/><line x1="1048.5" y1="166" x2="1048.5" y2="186" stroke="#000" stroke-width="1"/><rect x="1046.5" y="178.5" width="4" height="7" fill="#44ee44" stroke="#000" stroke-width="1"/><line x1="1052.5" y1="176" x2="1052.5" y2="178" stroke="#000" stroke-width="1"/><rect x="1050.5" y="176.5" width="4" height="2" fill="#44ee44" stroke="#000" stroke-width="1"/><line x1="1056.5" y1="171" x2="1056.5" y2="185" stroke="#000" stroke-width="1"/><rect x="1054.5" y="174.5" width="4" height="4" fill="#ff4444" stroke="#000" stroke-width="1"/><line x1="1061.5" y1="176" x2="1061.5" y2="179" stroke="#000" stroke-width="1"/><line x1="1059" y1="177.5" x2="1064" y2="177.5" stroke="#000" stroke-width="1"/><line x1="1065.5" y1="178" x2="1065.5" y2="182" stroke="#000" stroke-width="1"/><rect x="1063.5" y="178.5" width="4" height="2" fill="#44ee44" stroke="#000" stroke-width="1"/><line x1="1069.5" y1="174" x2="1069.5" y2="182" stroke="#000" stroke-width="1"/><line x1="1067" y1="178.5" x2="1072" y2="178.5" stroke="#000" stroke-width="1"/><line x1="1073.5" y1="177" x2="1073.5" y2="179" stroke="#000" stroke-width="1"/><rect x="1071.5" y="177.5" width="4" height="2" fill="#ff4444" stroke="#000" stroke-width="1"/><line x1="1077.5" y1="164" x2="1077.5" y2="179" stroke="#000" stroke-width="1"/><rect x="1075.5" y="164.5" width="4" height="10" fill="#44ee44" stroke="#000" stroke-width="1"/><line x1="1082.5" y1="154" x2="1082.5" y2="159" stroke="#000" stroke-width="1"/><rect x="1080.5" y="154.5" width="4" height="3" fill="#44ee44" stroke="#000" stroke-width="1"/><line x1="1086.5" y1="144" x2="1086.5" y2="158" stroke="#000" stroke-width="1"/><rect x="1084.5" y="147.5" width="4" height="7" fill="#44ee44" stroke="#000" stroke-width="1"/><line x1="1090.5" y1="122" x2="1090.5" y2="141" stroke="#000" stroke-width="1"/><rect x="1088.5" y="122.5" width="4" height="18" fill="#44ee44" stroke="#000" stroke-width="1"/><line x1="1094.5" y1="109" x2="1094.5" y2="130" stroke="#000" stroke-width="1"/><rect x="1092.5" y="115.5" width="4" height="14" fill="#44ee44" stroke="#000" stroke-width="1"/><line x1="1098.5" y1="104" x2="1098.5" y2="119" stroke="#000" stroke-width="1"/><rect x="1096.5" y="106.5" width="4" height="6" fill="#44ee44" stroke="#000" stroke-width="1"/><line x1="1103.5" y1="107" x2="1103.5" y2="138" stroke="#000" stroke-width="1"/><rect x="1101.5" y="107.5" width="4" height="29" fill="#ff4444" stroke="#000" stroke-width="1"/><line x1="1107.5" y1="122" x2="1107.5" y2="138" stroke="#000" stroke-width="1"/><line x1="1105" y1="136.5" x2="1110" y2="136.5" stroke="#000" stroke-width="1"/><line x1="1111.5" y1="118" x2="1111.5" y2="127" stroke="#000" stroke-width="1"/><line x1="1109" y1="118.5" x2="1114" y2="118.5" stroke="#000" stroke-width="1"/><line x1="1115.5" y1="118" x2="1115.5" y2="127" stroke="#000" stroke-width="1"/><line x1="1113" y1="118.5" x2="1118" y2="118.5" stroke="#000" stroke-width="1"/><line x1="1119.5" y1="119" x2="1119.5" y2="125" stroke="#000" stroke-width="1"/><line x1="1117" y1="122.5" x2="1122" y2="122.5" stroke="#000" stroke-width="1"/><line x1="1124.5" y1="118" x2="1124.5" y2="126" stroke="#000" stroke-width="1"/><line x1="1122" y1="125.5" x2="1127" y2="125.5" stroke="#000" stroke-width="1"/><line x1="1128.5" y1="119" x2="1128.5" y2="129" stroke="#000" stroke-width="1"/><line x1="1126" y1="127.5" x2="1131" y2="127.5" stroke="#000" stroke-width="1"/><line x1="1132.5" y1="128" x2="1132.5" y2="134" stroke="#000" stroke-width="1"/><line x1="1130" y1="133.5" x2="1135" y2="133.5" stroke="#000" stroke-width="1"/><line x1="1136.5" y1="135" x2="1136.5" y2="168" stroke="#000" stroke-width="1"/><rect x="1134.5" y="135.5" width="4" height="21" fill="#ff4444" stroke="#000" stroke-width="1"/><line x1="1140.5" y1="145" x2="1140.5" y2="159" stroke="#000" stroke-width="1"/><rect x="1138.5" y="145.5" width="4" height="12" fill="#44ee44" stroke="#000" stroke-width="1"/><line x1="1145.5" y1="147" x2="1145.5" y2="155" stroke="#000" stroke-width="1"/><rect x="1143.5" y="147.5" width="4" height="3" fill="#ff4444" stroke="#000" stroke-width="1"/><line x1="1149.5" y1="142" x2="1149.5" y2="151" stroke="#000" stroke-width="1"/><rect x="1147.5" y="144.5" width="4" height="4" fill="#44ee44" stroke="#000" stroke-width="1"/><line x1="1153.5" y1="141" x2="1153.5" y2="159" stroke="#000" stroke-width="1"/><rect x="1151.5" y="141.5" width="4" height="16" fill="#ff4444" stroke="#000" stroke-width="1"/><line x1="1157.5" y1="143" x2="1157.5" y2="154" stroke="#000" stroke-width="1"/><rect x="1155.5" y="149.5" width="4" height="4" fill="#44ee44" stroke="#000" stroke-width="1"/><line x1="1161.5" y1="149" x2="1161.5" y2="157" stroke="#000" stroke-width="1"/><rect x="1159.5" y="155.5" width="4" height="2" fill="#44ee44" stroke="#000" stroke-width="1"/><line x1="1166.5" y1="150" x2="1166.5" y2="169" stroke="#000" stroke-width="1"/><rect x="1164.5" y="158.5" width="4" height="10" fill="#ff4444" stroke="#000" stroke-width="1"/><line x1="1170.5" y1="168" x2="1170.5" y2="183" stroke="#000" stroke-width="1"/><rect x="1168.5" y="168.5" width="4" height="11" fill="#ff4444" stroke="#000" stroke-width="1"/><rect x="1075.5" y="138.5" width="221" height="2" fill="none" stroke="#8b0a1a" stroke-width="1"/><rect x="1032.5" y="165.5" width="264" height="2" fill="none" stroke="#8b0a1a" stroke-width="1"/><rect x="830.5" y="194.5" width="466" height="2" fill="none" stroke="#8b0a1a" stroke-width="1"/><rect x="987.5" y="216.5" width="309" height="4" fill="#9edcf0" stroke="#3c46d8" stroke-width="1"/><defs><clipPath id="cl"><rect x="0" y="0" width="1297" height="876"/></clipPath></defs><g clip-path="url(#cl)"><line x1="193.0" y1="344.6" x2="1297.0" y2="52.0" stroke="#000" stroke-width="3" shape-rendering="crispEdges" stroke-linecap="round"/><line x1="185.0" y1="498.6" x2="1296.8" y2="204.4" stroke="#000" stroke-width="3" shape-rendering="crispEdges" stroke-linecap="round"/><line x1="155.5" y1="364.6" x2="1297.0" y2="62.3" stroke="#000" stroke-width="1" shape-rendering="crispEdges"/><line x1="173.4" y1="492.6" x2="1296.8" y2="192.6" stroke="#000" stroke-width="1" shape-rendering="crispEdges"/><line x1="1093.4" y1="101.5" x2="1296.6" y2="196.0" stroke="#ff1a1a" stroke-width="1" shape-rendering="crispEdges"/><line x1="1124.2" y1="162.4" x2="1262.4" y2="226.8" stroke="#ff1a1a" stroke-width="1" shape-rendering="crispEdges"/><line x1="1126.2" y1="117.2" x2="1277.0" y2="237.1" stroke="#ff00ff" stroke-width="1" shape-rendering="crispEdges"/><line x1="1129.4" y1="162.8" x2="1225.5" y2="239.7" stroke="#ff00ff" stroke-width="1" shape-rendering="crispEdges"/></g><text x="1176" y="95.5" font-size="12" fill="#000" style="filter:grayscale(0%)">3,6</text><text x="1176" y="112.5" font-size="12" fill="#000" style="filter:grayscale(0%)">3,4</text><text x="1176" y="131.5" font-size="12" fill="#000" style="filter:grayscale(0%)">3,2</text><text x="1176" y="150.5" font-size="12" fill="#000" style="filter:grayscale(0%)">3,0</text><text x="1176" y="171.5" font-size="12" fill="#000" style="filter:grayscale(0%)">2,8</text><text x="1176" y="194.5" font-size="12" fill="#000" style="filter:grayscale(0%)">2,6</text><text x="1176" y="218.5" font-size="12" fill="#000" style="filter:grayscale(0%)">2,4</text><text x="1176" y="245.5" font-size="12" fill="#000" style="filter:grayscale(0%)">2,2</text><text x="1176" y="274.5" font-size="12" fill="#000" style="filter:grayscale(0%)">2,0</text><text x="1176" y="306.5" font-size="12" fill="#000" style="filter:grayscale(0%)">1,8</text><text x="1176" y="341.5" font-size="12" fill="#000" style="filter:grayscale(0%)">1,6</text><text x="1176" y="382.5" font-size="12" fill="#000" style="filter:grayscale(0%)">1,4</text><text x="1176" y="429.5" font-size="12" fill="#000" style="filter:grayscale(0%)">1,2</text><text x="1176" y="484.5" font-size="12" fill="#000" style="filter:grayscale(0%)">1,0</text><text x="136.5" y="551" font-size="12" fill="#000" text-anchor="middle" style="filter:grayscale(0%)">Juli</text><text x="233.5" y="551" font-size="12" fill="#000" text-anchor="middle" style="filter:grayscale(0%)">Aug.</text><text x="321.5" y="551" font-size="12" fill="#000" text-anchor="middle" style="filter:grayscale(0%)">Sep.</text><text x="414.5" y="551" font-size="12" fill="#000" text-anchor="middle" style="filter:grayscale(0%)">Okt.</text><text x="506.5" y="551" font-size="12" fill="#000" text-anchor="middle" style="filter:grayscale(0%)">Nov.</text><text x="594.5" y="551" font-size="12" fill="#000" text-anchor="middle" style="filter:grayscale(0%)">Dez.</text><text x="678.5" y="551" font-size="12" fill="#000" text-anchor="middle" style="filter:grayscale(0%)">Jan.</text><text x="762.5" y="551" font-size="12" fill="#000" text-anchor="middle" style="filter:grayscale(0%)">Feb.</text><text x="846.5" y="551" font-size="12" fill="#000" text-anchor="middle" style="filter:grayscale(0%)">März</text><text x="943.5" y="551" font-size="12" fill="#000" text-anchor="middle" style="filter:grayscale(0%)">April</text><text x="1027.5" y="551" font-size="12" fill="#000" text-anchor="middle" style="filter:grayscale(0%)">Mai</text><text x="1111.5" y="551" font-size="12" fill="#000" text-anchor="middle" style="filter:grayscale(0%)">Juni</text><rect x="47.5" y="64.5" width="8" height="8" fill="#ff4444" stroke="#000" stroke-width="1"/><text x="60" y="73" font-size="12" fill="#000" style="filter:grayscale(0%)" textLength="152" lengthAdjust="spacing">HolidayCheck Group (Xetra)</text><text x="843.5" y="189.5" font-size="14" font-weight="bold" fill="#800000">2,56</text><text x="976" y="211" font-size="18" font-weight="bold" fill="#000">gap</text><text x="1030.3" y="230.8" font-size="14" font-weight="bold" fill="#3c4ed0">2,35</text><text x="1082" y="99.8" font-size="12" fill="#a4a4a4" textLength="24" lengthAdjust="spacing">3,44</text><text x="210" y="501.5" font-size="12" fill="#a4a4a4" textLength="31" lengthAdjust="spacing">0,983</text><rect x="47.5" y="564.5" width="8" height="8" fill="#dd6666" stroke="#000" stroke-width="1"/><text x="60" y="573" font-size="12" fill="#000" style="filter:grayscale(0%)" textLength="206" lengthAdjust="spacing">HolidayCheck Group Volumen in Euro</text><rect x="46.5" y="581.5" width="1126.0" height="99" fill="none" stroke="#d9d9d9" stroke-width="1"/><line x1="46.5" y1="606.5" x2="1172.5" y2="606.5" stroke="#d9d9d9" stroke-width="1"/><line x1="46.5" y1="630.5" x2="1172.5" y2="630.5" stroke="#d9d9d9" stroke-width="1"/><line x1="46.5" y1="655.5" x2="1172.5" y2="655.5" stroke="#d9d9d9" stroke-width="1"/><line x1="136.5" y1="581" x2="136.5" y2="680" stroke="#d9d9d9" stroke-width="1"/><line x1="233.5" y1="581" x2="233.5" y2="680" stroke="#d9d9d9" stroke-width="1"/><line x1="321.5" y1="581" x2="321.5" y2="680" stroke="#d9d9d9" stroke-width="1"/><line x1="414.5" y1="581" x2="414.5" y2="680" stroke="#d9d9d9" stroke-width="1"/><line x1="506.5" y1="581" x2="506.5" y2="680" stroke="#d9d9d9" stroke-width="1"/><line x1="594.5" y1="581" x2="594.5" y2="680" stroke="#d9d9d9" stroke-width="1"/><line x1="678.5" y1="581" x2="678.5" y2="680" stroke="#d9d9d9" stroke-width="1"/><line x1="762.5" y1="581" x2="762.5" y2="680" stroke="#d9d9d9" stroke-width="1"/><line x1="846.5" y1="581" x2="846.5" y2="680" stroke="#d9d9d9" stroke-width="1"/><line x1="943.5" y1="581" x2="943.5" y2="680" stroke="#d9d9d9" stroke-width="1"/><line x1="1027.5" y1="581" x2="1027.5" y2="680" stroke="#d9d9d9" stroke-width="1"/><line x1="1111.5" y1="581" x2="1111.5" y2="680" stroke="#d9d9d9" stroke-width="1"/><rect x="47" y="678.00" width="3" height="2.75" fill="#66dd66"/><rect x="51" y="673.00" width="3" height="7.75" fill="#66dd66"/><rect x="56" y="674.88" width="3" height="5.88" fill="#dd6666"/><rect x="60" y="673.00" width="3" height="7.75" fill="#66dd66"/><rect x="64" y="678.00" width="3" height="2.75" fill="#66dd66"/><rect x="68" y="678.00" width="3" height="2.75" fill="#dd6666"/><rect x="72" y="680.00" width="3" height="0.75" fill="#dd6666"/><rect x="77" y="679.00" width="3" height="1.75" fill="#66dd66"/><rect x="81" y="678.00" width="3" height="2.75" fill="#dd6666"/><rect x="85" y="679.00" width="3" height="1.75" fill="#dd6666"/><rect x="89" y="676.00" width="3" height="4.75" fill="#66dd66"/><rect x="93" y="680.00" width="3" height="0.75" fill="#c0c0c0"/><rect x="98" y="677.00" width="3" height="3.75" fill="#dd6666"/><rect x="102" y="679.00" width="3" height="1.75" fill="#66dd66"/><rect x="106" y="680.00" width="3" height="0.75" fill="#dd6666"/><rect x="110" y="679.00" width="3" height="1.75" fill="#66dd66"/><rect x="114" y="680.00" width="3" height="0.75" fill="#dd6666"/><rect x="119" y="679.00" width="3" height="1.75" fill="#dd6666"/><rect x="123" y="673.00" width="3" height="7.75" fill="#dd6666"/><rect x="127" y="678.00" width="3" height="2.75" fill="#66dd66"/><rect x="131" y="679.00" width="3" height="1.75" fill="#66dd66"/><rect x="135" y="679.00" width="3" height="1.75" fill="#dd6666"/><rect x="140" y="673.00" width="3" height="7.75" fill="#66dd66"/><rect x="144" y="677.00" width="3" height="3.75" fill="#dd6666"/><rect x="148" y="676.00" width="3" height="4.75" fill="#66dd66"/><rect x="152" y="676.00" width="3" height="4.75" fill="#66dd66"/><rect x="156" y="678.00" width="3" height="2.75" fill="#dd6666"/><rect x="161" y="671.00" width="3" height="9.75" fill="#dd6666"/><rect x="165" y="677.00" width="3" height="3.75" fill="#dd6666"/><rect x="169" y="679.00" width="3" height="1.75" fill="#dd6666"/><rect x="173" y="679.00" width="3" height="1.75" fill="#dd6666"/><rect x="177" y="679.00" width="3" height="1.75" fill="#66dd66"/><rect x="182" y="680.00" width="3" height="0.75" fill="#dd6666"/><rect x="186" y="680.00" width="3" height="0.75" fill="#dd6666"/><rect x="190" y="680.00" width="3" height="0.75" fill="#dd6666"/><rect x="194" y="677.00" width="3" height="3.75" fill="#dd6666"/><rect x="198" y="677.00" width="3" height="3.75" fill="#dd6666"/><rect x="203" y="680.00" width="3" height="0.75" fill="#66dd66"/><rect x="207" y="678.00" width="3" height="2.75" fill="#dd6666"/><rect x="211" y="678.00" width="3" height="2.75" fill="#dd6666"/><rect x="215" y="676.00" width="3" height="4.75" fill="#dd6666"/><rect x="219" y="679.00" width="3" height="1.75" fill="#dd6666"/><rect x="224" y="677.00" width="3" height="3.75" fill="#dd6666"/><rect x="228" y="679.00" width="3" height="1.75" fill="#66dd66"/><rect x="232" y="676.00" width="3" height="4.75" fill="#66dd66"/><rect x="236" y="679.00" width="3" height="1.75" fill="#dd6666"/><rect x="240" y="679.00" width="3" height="1.75" fill="#c0c0c0"/><rect x="245" y="680.00" width="3" height="0.75" fill="#dd6666"/><rect x="249" y="679.00" width="3" height="1.75" fill="#dd6666"/><rect x="253" y="674.88" width="3" height="5.88" fill="#dd6666"/><rect x="257" y="674.88" width="3" height="5.88" fill="#66dd66"/><rect x="261" y="679.00" width="3" height="1.75" fill="#66dd66"/><rect x="266" y="679.00" width="3" height="1.75" fill="#66dd66"/><rect x="270" y="672.00" width="3" height="8.75" fill="#66dd66"/><rect x="274" y="651.00" width="3" height="29.75" fill="#c0c0c0"/><rect x="278" y="679.00" width="3" height="1.75" fill="#66dd66"/><rect x="282" y="678.00" width="3" height="2.75" fill="#c0c0c0"/><rect x="287" y="679.00" width="3" height="1.75" fill="#dd6666"/><rect x="291" y="679.00" width="3" height="1.75" fill="#dd6666"/><rect x="295" y="680.00" width="3" height="0.75" fill="#66dd66"/><rect x="299" y="676.00" width="3" height="4.75" fill="#66dd66"/><rect x="303" y="679.00" width="3" height="1.75" fill="#66dd66"/><rect x="308" y="677.00" width="3" height="3.75" fill="#c0c0c0"/><rect x="312" y="679.00" width="3" height="1.75" fill="#dd6666"/><rect x="316" y="670.12" width="3" height="10.62" fill="#c0c0c0"/><rect x="320" y="677.00" width="3" height="3.75" fill="#66dd66"/><rect x="324" y="668.00" width="3" height="12.75" fill="#dd6666"/><rect x="329" y="677.00" width="3" height="3.75" fill="#dd6666"/><rect x="333" y="678.00" width="3" height="2.75" fill="#66dd66"/><rect x="337" y="679.00" width="3" height="1.75" fill="#c0c0c0"/><rect x="341" y="678.00" width="3" height="2.75" fill="#dd6666"/><rect x="345" y="680.00" width="3" height="0.75" fill="#c0c0c0"/><rect x="350" y="680.00" width="3" height="0.75" fill="#66dd66"/><rect x="354" y="680.00" width="3" height="0.75" fill="#dd6666"/><rect x="358" y="679.00" width="3" height="1.75" fill="#66dd66"/><rect x="362" y="678.00" width="3" height="2.75" fill="#c0c0c0"/><rect x="366" y="679.00" width="3" height="1.75" fill="#dd6666"/><rect x="371" y="679.00" width="3" height="1.75" fill="#66dd66"/><rect x="375" y="678.00" width="3" height="2.75" fill="#66dd66"/><rect x="379" y="678.00" width="3" height="2.75" fill="#dd6666"/><rect x="383" y="678.00" width="3" height="2.75" fill="#66dd66"/><rect x="387" y="678.00" width="3" height="2.75" fill="#66dd66"/><rect x="392" y="669.12" width="3" height="11.62" fill="#66dd66"/><rect x="396" y="674.88" width="3" height="5.88" fill="#66dd66"/><rect x="400" y="674.88" width="3" height="5.88" fill="#66dd66"/><rect x="404" y="678.00" width="3" height="2.75" fill="#dd6666"/><rect x="408" y="676.00" width="3" height="4.75" fill="#66dd66"/><rect x="413" y="679.00" width="3" height="1.75" fill="#c0c0c0"/><rect x="417" y="678.00" width="3" height="2.75" fill="#dd6666"/><rect x="421" y="678.00" width="3" height="2.75" fill="#66dd66"/><rect x="425" y="677.00" width="3" height="3.75" fill="#66dd66"/><rect x="429" y="672.00" width="3" height="8.75" fill="#66dd66"/><rect x="434" y="661.00" width="3" height="19.75" fill="#dd6666"/><rect x="438" y="677.00" width="3" height="3.75" fill="#66dd66"/><rect x="442" y="677.00" width="3" height="3.75" fill="#66dd66"/><rect x="446" y="676.00" width="3" height="4.75" fill="#dd6666"/><rect x="450" y="674.00" width="3" height="6.75" fill="#dd6666"/><rect x="455" y="672.00" width="3" height="8.75" fill="#dd6666"/><rect x="459" y="677.00" width="3" height="3.75" fill="#66dd66"/><rect x="463" y="679.00" width="3" height="1.75" fill="#dd6666"/><rect x="467" y="674.88" width="3" height="5.88" fill="#66dd66"/><rect x="471" y="679.00" width="3" height="1.75" fill="#c0c0c0"/><rect x="476" y="677.00" width="3" height="3.75" fill="#c0c0c0"/><rect x="480" y="679.00" width="3" height="1.75" fill="#dd6666"/><rect x="484" y="671.00" width="3" height="9.75" fill="#66dd66"/><rect x="488" y="674.88" width="3" height="5.88" fill="#dd6666"/><rect x="492" y="655.50" width="3" height="25.25" fill="#c0c0c0"/><rect x="497" y="678.00" width="3" height="2.75" fill="#66dd66"/><rect x="501" y="679.00" width="3" height="1.75" fill="#66dd66"/><rect x="505" y="665.12" width="3" height="15.62" fill="#dd6666"/><rect x="509" y="680.00" width="3" height="0.75" fill="#dd6666"/><rect x="513" y="679.00" width="3" height="1.75" fill="#dd6666"/><rect x="518" y="680.00" width="3" height="0.75" fill="#dd6666"/><rect x="522" y="680.00" width="3" height="0.75" fill="#66dd66"/><rect x="526" y="677.00" width="3" height="3.75" fill="#66dd66"/><rect x="530" y="679.00" width="3" height="1.75" fill="#dd6666"/><rect x="534" y="676.00" width="3" height="4.75" fill="#66dd66"/><rect x="539" y="678.00" width="3" height="2.75" fill="#c0c0c0"/><rect x="543" y="680.00" width="3" height="0.75" fill="#66dd66"/><rect x="547" y="676.00" width="3" height="4.75" fill="#66dd66"/><rect x="551" y="677.00" width="3" height="3.75" fill="#66dd66"/><rect x="555" y="680.00" width="3" height="0.75" fill="#dd6666"/><rect x="560" y="680.00" width="3" height="0.75" fill="#c0c0c0"/><rect x="564" y="663.88" width="3" height="16.88" fill="#66dd66"/><rect x="568" y="676.00" width="3" height="4.75" fill="#66dd66"/><rect x="572" y="677.00" width="3" height="3.75" fill="#dd6666"/><rect x="576" y="679.00" width="3" height="1.75" fill="#dd6666"/><rect x="581" y="678.00" width="3" height="2.75" fill="#dd6666"/><rect x="585" y="679.00" width="3" height="1.75" fill="#66dd66"/><rect x="589" y="677.00" width="3" height="3.75" fill="#66dd66"/><rect x="593" y="679.00" width="3" height="1.75" fill="#dd6666"/><rect x="597" y="680.00" width="3" height="0.75" fill="#dd6666"/><rect x="602" y="659.00" width="3" height="21.75" fill="#dd6666"/><rect x="606" y="670.12" width="3" height="10.62" fill="#dd6666"/><rect x="610" y="666.00" width="3" height="14.75" fill="#66dd66"/><rect x="614" y="672.00" width="3" height="8.75" fill="#c0c0c0"/><rect x="618" y="674.00" width="3" height="6.75" fill="#c0c0c0"/><rect x="623" y="674.00" width="3" height="6.75" fill="#66dd66"/><rect x="627" y="676.00" width="3" height="4.75" fill="#dd6666"/><rect x="631" y="676.00" width="3" height="4.75" fill="#66dd66"/><rect x="635" y="676.00" width="3" height="4.75" fill="#dd6666"/><rect x="639" y="680.00" width="3" height="0.75" fill="#dd6666"/><rect x="644" y="678.00" width="3" height="2.75" fill="#66dd66"/><rect x="648" y="680.00" width="3" height="0.75" fill="#dd6666"/><rect x="652" y="670.12" width="3" height="10.62" fill="#dd6666"/><rect x="656" y="677.00" width="3" height="3.75" fill="#66dd66"/><rect x="660" y="680.00" width="3" height="0.75" fill="#66dd66"/><rect x="665" y="678.00" width="3" height="2.75" fill="#dd6666"/><rect x="669" y="677.00" width="3" height="3.75" fill="#66dd66"/><rect x="673" y="679.00" width="3" height="1.75" fill="#66dd66"/><rect x="677" y="677.00" width="3" height="3.75" fill="#c0c0c0"/><rect x="681" y="680.00" width="3" height="0.75" fill="#dd6666"/><rect x="686" y="679.00" width="3" height="1.75" fill="#c0c0c0"/><rect x="690" y="677.00" width="3" height="3.75" fill="#66dd66"/><rect x="694" y="678.00" width="3" height="2.75" fill="#c0c0c0"/><rect x="698" y="680.00" width="3" height="0.75" fill="#c0c0c0"/><rect x="702" y="678.00" width="3" height="2.75" fill="#dd6666"/><rect x="707" y="679.00" width="3" height="1.75" fill="#66dd66"/><rect x="711" y="679.00" width="3" height="1.75" fill="#c0c0c0"/><rect x="715" y="677.00" width="3" height="3.75" fill="#dd6666"/><rect x="719" y="679.00" width="3" height="1.75" fill="#dd6666"/><rect x="723" y="680.00" width="3" height="0.75" fill="#66dd66"/><rect x="728" y="679.00" width="3" height="1.75" fill="#dd6666"/><rect x="732" y="668.00" width="3" height="12.75" fill="#dd6666"/><rect x="736" y="668.00" width="3" height="12.75" fill="#66dd66"/><rect x="740" y="678.00" width="3" height="2.75" fill="#dd6666"/><rect x="744" y="676.00" width="3" height="4.75" fill="#66dd66"/><rect x="749" y="678.00" width="3" height="2.75" fill="#dd6666"/><rect x="753" y="674.88" width="3" height="5.88" fill="#dd6666"/><rect x="757" y="670.12" width="3" height="10.62" fill="#66dd66"/><rect x="761" y="673.00" width="3" height="7.75" fill="#66dd66"/><rect x="765" y="667.00" width="3" height="13.75" fill="#c0c0c0"/><rect x="770" y="679.00" width="3" height="1.75" fill="#dd6666"/><rect x="774" y="679.00" width="3" height="1.75" fill="#66dd66"/><rect x="778" y="678.00" width="3" height="2.75" fill="#dd6666"/><rect x="782" y="679.00" width="3" height="1.75" fill="#c0c0c0"/><rect x="786" y="674.88" width="3" height="5.88" fill="#66dd66"/><rect x="791" y="680.00" width="3" height="0.75" fill="#dd6666"/><rect x="795" y="668.00" width="3" height="12.75" fill="#dd6666"/><rect x="799" y="676.00" width="3" height="4.75" fill="#dd6666"/><rect x="803" y="671.00" width="3" height="9.75" fill="#dd6666"/><rect x="807" y="669.12" width="3" height="11.62" fill="#66dd66"/><rect x="812" y="676.00" width="3" height="4.75" fill="#66dd66"/><rect x="816" y="678.00" width="3" height="2.75" fill="#dd6666"/><rect x="820" y="678.00" width="3" height="2.75" fill="#dd6666"/><rect x="824" y="677.00" width="3" height="3.75" fill="#c0c0c0"/><rect x="829" y="670.12" width="3" height="10.62" fill="#66dd66"/><rect x="833" y="677.00" width="3" height="3.75" fill="#66dd66"/><rect x="837" y="668.00" width="3" height="12.75" fill="#66dd66"/><rect x="841" y="677.00" width="3" height="3.75" fill="#66dd66"/><rect x="845" y="663.88" width="3" height="16.88" fill="#66dd66"/><rect x="850" y="660.00" width="3" height="20.75" fill="#66dd66"/><rect x="854" y="676.00" width="3" height="4.75" fill="#dd6666"/><rect x="858" y="676.00" width="3" height="4.75" fill="#dd6666"/><rect x="862" y="677.00" width="3" height="3.75" fill="#dd6666"/><rect x="866" y="678.00" width="3" height="2.75" fill="#dd6666"/><rect x="871" y="678.00" width="3" height="2.75" fill="#66dd66"/><rect x="875" y="679.00" width="3" height="1.75" fill="#dd6666"/><rect x="879" y="679.00" width="3" height="1.75" fill="#c0c0c0"/><rect x="883" y="679.00" width="3" height="1.75" fill="#dd6666"/><rect x="887" y="676.00" width="3" height="4.75" fill="#66dd66"/><rect x="892" y="679.00" width="3" height="1.75" fill="#66dd66"/><rect x="896" y="679.00" width="3" height="1.75" fill="#dd6666"/><rect x="900" y="678.00" width="3" height="2.75" fill="#66dd66"/><rect x="904" y="679.00" width="3" height="1.75" fill="#dd6666"/><rect x="908" y="680.00" width="3" height="0.75" fill="#66dd66"/><rect x="913" y="680.00" width="3" height="0.75" fill="#dd6666"/><rect x="917" y="672.00" width="3" height="8.75" fill="#dd6666"/><rect x="921" y="673.00" width="3" height="7.75" fill="#dd6666"/><rect x="925" y="670.12" width="3" height="10.62" fill="#66dd66"/><rect x="929" y="680.25" width="3" height="0.50" fill="#c0c0c0"/><rect x="934" y="680.00" width="3" height="0.75" fill="#dd6666"/><rect x="938" y="677.00" width="3" height="3.75" fill="#66dd66"/><rect x="942" y="678.00" width="3" height="2.75" fill="#66dd66"/><rect x="946" y="678.00" width="3" height="2.75" fill="#66dd66"/><rect x="950" y="678.00" width="3" height="2.75" fill="#dd6666"/><rect x="955" y="679.00" width="3" height="1.75" fill="#c0c0c0"/><rect x="959" y="679.00" width="3" height="1.75" fill="#66dd66"/><rect x="963" y="679.00" width="3" height="1.75" fill="#dd6666"/><rect x="967" y="679.00" width="3" height="1.75" fill="#c0c0c0"/><rect x="971" y="676.00" width="3" height="4.75" fill="#dd6666"/><rect x="976" y="670.12" width="3" height="10.62" fill="#c0c0c0"/><rect x="980" y="678.00" width="3" height="2.75" fill="#66dd66"/><rect x="984" y="678.00" width="3" height="2.75" fill="#66dd66"/><rect x="988" y="676.00" width="3" height="4.75" fill="#dd6666"/><rect x="992" y="677.00" width="3" height="3.75" fill="#66dd66"/><rect x="997" y="676.00" width="3" height="4.75" fill="#dd6666"/><rect x="1001" y="678.00" width="3" height="2.75" fill="#dd6666"/><rect x="1005" y="673.00" width="3" height="7.75" fill="#66dd66"/><rect x="1009" y="670.12" width="3" height="10.62" fill="#c0c0c0"/><rect x="1013" y="676.00" width="3" height="4.75" fill="#66dd66"/><rect x="1018" y="674.88" width="3" height="5.88" fill="#66dd66"/><rect x="1022" y="661.88" width="3" height="18.88" fill="#66dd66"/><rect x="1026" y="652.88" width="3" height="27.88" fill="#66dd66"/><rect x="1030" y="659.00" width="3" height="21.75" fill="#dd6666"/><rect x="1034" y="675.00" width="3" height="5.75" fill="#66dd66"/><rect x="1039" y="676.88" width="3" height="3.88" fill="#dd6666"/><rect x="1043" y="657.12" width="3" height="23.62" fill="#66dd66"/><rect x="1047" y="666.88" width="3" height="13.88" fill="#66dd66"/><rect x="1051" y="661.88" width="3" height="18.88" fill="#66dd66"/><rect x="1055" y="657.12" width="3" height="23.62" fill="#dd6666"/><rect x="1060" y="652.88" width="3" height="27.88" fill="#66dd66"/><rect x="1064" y="678.12" width="3" height="2.62" fill="#dd6666"/><rect x="1068" y="592.88" width="3" height="87.88" fill="#66dd66"/><rect x="1072" y="679.00" width="3" height="1.75" fill="#dd6666"/><rect x="1076" y="675.00" width="3" height="5.75" fill="#66dd66"/><rect x="1081" y="654.00" width="3" height="26.75" fill="#66dd66"/><rect x="1085" y="662.88" width="3" height="17.88" fill="#66dd66"/><rect x="1089" y="643.12" width="3" height="37.62" fill="#66dd66"/><rect x="1093" y="658.12" width="3" height="22.62" fill="#66dd66"/><rect x="1097" y="671.00" width="3" height="9.75" fill="#66dd66"/><rect x="1102" y="661.88" width="3" height="18.88" fill="#dd6666"/><rect x="1106" y="672.88" width="3" height="7.88" fill="#dd6666"/><rect x="1110" y="669.00" width="3" height="11.75" fill="#66dd66"/><rect x="1114" y="666.88" width="3" height="13.88" fill="#66dd66"/><rect x="1118" y="676.00" width="3" height="4.75" fill="#dd6666"/><rect x="1123" y="674.00" width="3" height="6.75" fill="#dd6666"/><rect x="1127" y="666.88" width="3" height="13.88" fill="#dd6666"/><rect x="1131" y="678.12" width="3" height="2.62" fill="#dd6666"/><rect x="1135" y="662.88" width="3" height="17.88" fill="#dd6666"/><rect x="1139" y="679.00" width="3" height="1.75" fill="#66dd66"/><rect x="1144" y="679.00" width="3" height="1.75" fill="#dd6666"/><rect x="1148" y="676.88" width="3" height="3.88" fill="#66dd66"/><rect x="1152" y="672.88" width="3" height="7.88" fill="#dd6666"/><rect x="1156" y="678.12" width="3" height="2.62" fill="#66dd66"/><rect x="1160" y="675.00" width="3" height="5.75" fill="#dd6666"/><rect x="1165" y="676.00" width="3" height="4.75" fill="#dd6666"/><rect x="1169" y="675.00" width="3" height="5.75" fill="#dd6666"/><text x="1176" y="585.5" font-size="12" fill="#000" style="filter:grayscale(0%)">2,0M</text><text x="1176" y="610.5" font-size="12" fill="#000" style="filter:grayscale(0%)">1,5M</text><text x="1176" y="634.5" font-size="12" fill="#000" style="filter:grayscale(0%)">1,0M</text><text x="1176" y="659.5" font-size="12" fill="#000" style="filter:grayscale(0%)">0,5M</text><text x="1176" y="684.5" font-size="12" fill="#000" style="filter:grayscale(0%)">0,0M</text><rect x="47.5" y="696.5" width="8" height="8" fill="#0000ff" stroke="#000" stroke-width="1"/><text x="60" y="705" font-size="12" fill="#000" style="filter:grayscale(0%)">MACD (26, 12): 0,00726</text><rect x="217.5" y="696.5" width="8" height="8" fill="#ff00ff" stroke="#000" stroke-width="1"/><text x="230" y="705" font-size="12" fill="#000" style="filter:grayscale(0%)">EXP (9): 0,0767</text><rect x="342.5" y="696.5" width="8" height="8" fill="#007700" stroke="#000" stroke-width="1"/><text x="355" y="705" font-size="12" fill="#000" style="filter:grayscale(0%)" textLength="116.5" lengthAdjust="spacing">Divergence: -0,06945</text><rect x="46.5" y="713.5" width="1126.0" height="149" fill="none" stroke="#d9d9d9" stroke-width="1"/><line x1="46.5" y1="743.5" x2="1172.5" y2="743.5" stroke="#d9d9d9" stroke-width="1"/><line x1="46.5" y1="773.5" x2="1172.5" y2="773.5" stroke="#d9d9d9" stroke-width="1"/><line x1="46.5" y1="802.5" x2="1172.5" y2="802.5" stroke="#d9d9d9" stroke-width="1"/><line x1="46.5" y1="832.5" x2="1172.5" y2="832.5" stroke="#d9d9d9" stroke-width="1"/><line x1="136.5" y1="713" x2="136.5" y2="862" stroke="#d9d9d9" stroke-width="1"/><line x1="233.5" y1="713" x2="233.5" y2="862" stroke="#d9d9d9" stroke-width="1"/><line x1="321.5" y1="713" x2="321.5" y2="862" stroke="#d9d9d9" stroke-width="1"/><line x1="414.5" y1="713" x2="414.5" y2="862" stroke="#d9d9d9" stroke-width="1"/><line x1="506.5" y1="713" x2="506.5" y2="862" stroke="#d9d9d9" stroke-width="1"/><line x1="594.5" y1="713" x2="594.5" y2="862" stroke="#d9d9d9" stroke-width="1"/><line x1="678.5" y1="713" x2="678.5" y2="862" stroke="#d9d9d9" stroke-width="1"/><line x1="762.5" y1="713" x2="762.5" y2="862" stroke="#d9d9d9" stroke-width="1"/><line x1="846.5" y1="713" x2="846.5" y2="862" stroke="#d9d9d9" stroke-width="1"/><line x1="943.5" y1="713" x2="943.5" y2="862" stroke="#d9d9d9" stroke-width="1"/><line x1="1027.5" y1="713" x2="1027.5" y2="862" stroke="#d9d9d9" stroke-width="1"/><line x1="1111.5" y1="713" x2="1111.5" y2="862" stroke="#d9d9d9" stroke-width="1"/><rect x="47" y="791" width="3" height="12" fill="#007700"/><rect x="51" y="792" width="3" height="11" fill="#007700"/><rect x="56" y="794" width="3" height="9" fill="#007700"/><rect x="60" y="794" width="3" height="9" fill="#007700"/><rect x="64" y="794" width="3" height="9" fill="#007700"/><rect x="68" y="796" width="3" height="7" fill="#007700"/><rect x="72" y="799" width="3" height="4" fill="#007700"/><rect x="77" y="800" width="3" height="3" fill="#007700"/><rect x="81" y="802" width="3" height="1" fill="#007700"/><rect x="85" y="803" width="3" height="2" fill="#007700"/><rect x="89" y="803" width="3" height="3" fill="#007700"/><rect x="93" y="803" width="3" height="4" fill="#007700"/><rect x="98" y="803" width="3" height="7" fill="#007700"/><rect x="102" y="803" width="3" height="7" fill="#007700"/><rect x="106" y="803" width="3" height="8" fill="#007700"/><rect x="110" y="803" width="3" height="7" fill="#007700"/><rect x="114" y="803" width="3" height="9" fill="#007700"/><rect x="119" y="803" width="3" height="11" fill="#007700"/><rect x="123" y="803" width="3" height="15" fill="#007700"/><rect x="127" y="803" width="3" height="16" fill="#007700"/><rect x="131" y="803" width="3" height="12" fill="#007700"/><rect x="135" y="803" width="3" height="9" fill="#007700"/><rect x="140" y="803" width="3" height="5" fill="#007700"/><rect x="144" y="803" width="3" height="3" fill="#007700"/><rect x="148" y="802" width="3" height="1" fill="#007700"/><rect x="152" y="802" width="3" height="1" fill="#007700"/><rect x="156" y="802" width="3" height="1" fill="#007700"/><rect x="161" y="803" width="3" height="2" fill="#007700"/><rect x="165" y="803" width="3" height="3" fill="#007700"/><rect x="169" y="803" width="3" height="5" fill="#007700"/><rect x="173" y="803" width="3" height="6" fill="#007700"/><rect x="177" y="803" width="3" height="7" fill="#007700"/><rect x="182" y="803" width="3" height="6" fill="#007700"/><rect x="186" y="803" width="3" height="6" fill="#007700"/><rect x="190" y="803" width="3" height="6" fill="#007700"/><rect x="194" y="803" width="3" height="5" fill="#007700"/><rect x="198" y="803" width="3" height="5" fill="#007700"/><rect x="203" y="803" width="3" height="4" fill="#007700"/><rect x="207" y="803" width="3" height="4" fill="#007700"/><rect x="211" y="803" width="3" height="4" fill="#007700"/><rect x="215" y="803" width="3" height="5" fill="#007700"/><rect x="219" y="803" width="3" height="6" fill="#007700"/><rect x="224" y="803" width="3" height="5" fill="#007700"/><rect x="228" y="803" width="3" height="4" fill="#007700"/><rect x="232" y="802" width="3" height="1" fill="#007700"/><rect x="236" y="802" width="3" height="1" fill="#007700"/><rect x="240" y="802" width="3" height="1" fill="#007700"/><rect x="245" y="802" width="3" height="1" fill="#007700"/><rect x="249" y="802" width="3" height="1" fill="#007700"/><rect x="253" y="802" width="3" height="1" fill="#007700"/><rect x="257" y="801" width="3" height="2" fill="#007700"/><rect x="261" y="800" width="3" height="3" fill="#007700"/><rect x="266" y="797" width="3" height="6" fill="#007700"/><rect x="270" y="795" width="3" height="8" fill="#007700"/><rect x="274" y="795" width="3" height="8" fill="#007700"/><rect x="278" y="795" width="3" height="8" fill="#007700"/><rect x="282" y="795" width="3" height="8" fill="#007700"/><rect x="287" y="796" width="3" height="7" fill="#007700"/><rect x="291" y="796" width="3" height="7" fill="#007700"/><rect x="295" y="796" width="3" height="7" fill="#007700"/><rect x="299" y="795" width="3" height="8" fill="#007700"/><rect x="303" y="795" width="3" height="8" fill="#007700"/><rect x="308" y="795" width="3" height="8" fill="#007700"/><rect x="312" y="795" width="3" height="8" fill="#007700"/><rect x="316" y="796" width="3" height="7" fill="#007700"/><rect x="320" y="797" width="3" height="6" fill="#007700"/><rect x="324" y="798" width="3" height="5" fill="#007700"/><rect x="329" y="799" width="3" height="4" fill="#007700"/><rect x="333" y="800" width="3" height="3" fill="#007700"/><rect x="337" y="801" width="3" height="2" fill="#007700"/><rect x="341" y="802" width="3" height="1" fill="#007700"/><rect x="345" y="802" width="3" height="1" fill="#007700"/><rect x="350" y="802" width="3" height="1" fill="#007700"/><rect x="354" y="802" width="3" height="1" fill="#007700"/><rect x="358" y="802" width="3" height="1" fill="#007700"/><rect x="362" y="802" width="3" height="1" fill="#007700"/><rect x="366" y="802" width="3" height="1" fill="#007700"/><rect x="371" y="803" width="3" height="1" fill="#007700"/><rect x="375" y="803" width="3" height="1" fill="#007700"/><rect x="379" y="803" width="3" height="1" fill="#007700"/><rect x="383" y="803" width="3" height="1" fill="#007700"/><rect x="387" y="802" width="3" height="1" fill="#007700"/><rect x="392" y="802" width="3" height="1" fill="#007700"/><rect x="396" y="802" width="3" height="1" fill="#007700"/><rect x="400" y="801" width="3" height="2" fill="#007700"/><rect x="404" y="801" width="3" height="2" fill="#007700"/><rect x="408" y="802" width="3" height="1" fill="#007700"/><rect x="413" y="802" width="3" height="1" fill="#007700"/><rect x="417" y="802" width="3" height="1" fill="#007700"/><rect x="421" y="802" width="3" height="1" fill="#007700"/><rect x="425" y="802" width="3" height="1" fill="#007700"/><rect x="429" y="802" width="3" height="1" fill="#007700"/><rect x="434" y="801" width="3" height="2" fill="#007700"/><rect x="438" y="800" width="3" height="3" fill="#007700"/><rect x="442" y="800" width="3" height="3" fill="#007700"/><rect x="446" y="800" width="3" height="3" fill="#007700"/><rect x="450" y="801" width="3" height="2" fill="#007700"/><rect x="455" y="802" width="3" height="1" fill="#007700"/><rect x="459" y="802" width="3" height="1" fill="#007700"/><rect x="463" y="802" width="3" height="1" fill="#007700"/><rect x="467" y="803" width="3" height="1" fill="#007700"/><rect x="471" y="803" width="3" height="1" fill="#007700"/><rect x="476" y="803" width="3" height="2" fill="#007700"/><rect x="480" y="803" width="3" height="2" fill="#007700"/><rect x="484" y="802" width="3" height="1" fill="#007700"/><rect x="488" y="803" width="3" height="1" fill="#007700"/><rect x="492" y="803" width="3" height="2" fill="#007700"/><rect x="497" y="803" width="3" height="2" fill="#007700"/><rect x="501" y="803" width="3" height="2" fill="#007700"/><rect x="505" y="803" width="3" height="2" fill="#007700"/><rect x="509" y="803" width="3" height="2" fill="#007700"/><rect x="513" y="803" width="3" height="4" fill="#007700"/><rect x="518" y="803" width="3" height="7" fill="#007700"/><rect x="522" y="803" width="3" height="7" fill="#007700"/><rect x="526" y="803" width="3" height="4" fill="#007700"/><rect x="530" y="803" width="3" height="2" fill="#007700"/><rect x="534" y="802" width="3" height="1" fill="#007700"/><rect x="539" y="802" width="3" height="1" fill="#007700"/><rect x="543" y="801" width="3" height="2" fill="#007700"/><rect x="547" y="800" width="3" height="3" fill="#007700"/><rect x="551" y="798" width="3" height="5" fill="#007700"/><rect x="555" y="798" width="3" height="5" fill="#007700"/><rect x="560" y="797" width="3" height="6" fill="#007700"/><rect x="564" y="795" width="3" height="8" fill="#007700"/><rect x="568" y="793" width="3" height="10" fill="#007700"/><rect x="572" y="791" width="3" height="12" fill="#007700"/><rect x="576" y="791" width="3" height="12" fill="#007700"/><rect x="581" y="794" width="3" height="9" fill="#007700"/><rect x="585" y="796" width="3" height="7" fill="#007700"/><rect x="589" y="797" width="3" height="6" fill="#007700"/><rect x="593" y="799" width="3" height="4" fill="#007700"/><rect x="597" y="801" width="3" height="2" fill="#007700"/><rect x="602" y="803" width="3" height="1" fill="#007700"/><rect x="606" y="803" width="3" height="3" fill="#007700"/><rect x="610" y="803" width="3" height="4" fill="#007700"/><rect x="614" y="803" width="3" height="4" fill="#007700"/><rect x="618" y="803" width="3" height="5" fill="#007700"/><rect x="623" y="803" width="3" height="5" fill="#007700"/><rect x="627" y="803" width="3" height="5" fill="#007700"/><rect x="631" y="803" width="3" height="5" fill="#007700"/><rect x="635" y="803" width="3" height="5" fill="#007700"/><rect x="639" y="803" width="3" height="5" fill="#007700"/><rect x="644" y="803" width="3" height="5" fill="#007700"/><rect x="648" y="803" width="3" height="4" fill="#007700"/><rect x="652" y="803" width="3" height="5" fill="#007700"/><rect x="656" y="803" width="3" height="4" fill="#007700"/><rect x="660" y="803" width="3" height="4" fill="#007700"/><rect x="665" y="803" width="3" height="3" fill="#007700"/><rect x="669" y="803" width="3" height="1" fill="#007700"/><rect x="673" y="802" width="3" height="1" fill="#007700"/><rect x="677" y="802" width="3" height="1" fill="#007700"/><rect x="681" y="802" width="3" height="1" fill="#007700"/><rect x="686" y="802" width="3" height="1" fill="#007700"/><rect x="690" y="802" width="3" height="1" fill="#007700"/><rect x="694" y="802" width="3" height="1" fill="#007700"/><rect x="698" y="802" width="3" height="1" fill="#007700"/><rect x="702" y="802" width="3" height="1" fill="#007700"/><rect x="707" y="802" width="3" height="1" fill="#007700"/><rect x="711" y="802" width="3" height="1" fill="#007700"/><rect x="715" y="803" width="3" height="1" fill="#007700"/><rect x="719" y="803" width="3" height="2" fill="#007700"/><rect x="723" y="803" width="3" height="2" fill="#007700"/><rect x="728" y="803" width="3" height="3" fill="#007700"/><rect x="732" y="803" width="3" height="4" fill="#007700"/><rect x="736" y="803" width="3" height="5" fill="#007700"/><rect x="740" y="803" width="3" height="5" fill="#007700"/><rect x="744" y="803" width="3" height="6" fill="#007700"/><rect x="749" y="803" width="3" height="5" fill="#007700"/><rect x="753" y="803" width="3" height="5" fill="#007700"/><rect x="757" y="803" width="3" height="3" fill="#007700"/><rect x="761" y="803" width="3" height="2" fill="#007700"/><rect x="765" y="802" width="3" height="1" fill="#007700"/><rect x="770" y="802" width="3" height="1" fill="#007700"/><rect x="774" y="801" width="3" height="2" fill="#007700"/><rect x="778" y="802" width="3" height="1" fill="#007700"/><rect x="782" y="802" width="3" height="1" fill="#007700"/><rect x="786" y="801" width="3" height="2" fill="#007700"/><rect x="791" y="802" width="3" height="1" fill="#007700"/><rect x="795" y="802" width="3" height="1" fill="#007700"/><rect x="799" y="802" width="3" height="1" fill="#007700"/><rect x="803" y="803" width="3" height="2" fill="#007700"/><rect x="807" y="803" width="3" height="2" fill="#007700"/><rect x="812" y="803" width="3" height="2" fill="#007700"/><rect x="816" y="803" width="3" height="2" fill="#007700"/><rect x="820" y="803" width="3" height="2" fill="#007700"/><rect x="824" y="803" width="3" height="2" fill="#007700"/><rect x="829" y="802" width="3" height="1" fill="#007700"/><rect x="833" y="801" width="3" height="2" fill="#007700"/><rect x="837" y="799" width="3" height="4" fill="#007700"/><rect x="841" y="796" width="3" height="7" fill="#007700"/><rect x="845" y="792" width="3" height="11" fill="#007700"/><rect x="850" y="788" width="3" height="15" fill="#007700"/><rect x="854" y="786" width="3" height="17" fill="#007700"/><rect x="858" y="787" width="3" height="16" fill="#007700"/><rect x="862" y="789" width="3" height="14" fill="#007700"/><rect x="866" y="794" width="3" height="9" fill="#007700"/><rect x="871" y="798" width="3" height="5" fill="#007700"/><rect x="875" y="800" width="3" height="3" fill="#007700"/><rect x="879" y="802" width="3" height="1" fill="#007700"/><rect x="883" y="803" width="3" height="1" fill="#007700"/><rect x="887" y="803" width="3" height="1" fill="#007700"/><rect x="892" y="803" width="3" height="1" fill="#007700"/><rect x="896" y="803" width="3" height="3" fill="#007700"/><rect x="900" y="803" width="3" height="4" fill="#007700"/><rect x="904" y="803" width="3" height="5" fill="#007700"/><rect x="908" y="803" width="3" height="5" fill="#007700"/><rect x="913" y="803" width="3" height="6" fill="#007700"/><rect x="917" y="803" width="3" height="10" fill="#007700"/><rect x="921" y="803" width="3" height="13" fill="#007700"/><rect x="925" y="803" width="3" height="12" fill="#007700"/><rect x="929" y="803" width="3" height="10" fill="#007700"/><rect x="934" y="803" width="3" height="9" fill="#007700"/><rect x="938" y="803" width="3" height="7" fill="#007700"/><rect x="942" y="803" width="3" height="4" fill="#007700"/><rect x="946" y="803" width="3" height="2" fill="#007700"/><rect x="950" y="803" width="3" height="1" fill="#007700"/><rect x="955" y="802" width="3" height="1" fill="#007700"/><rect x="959" y="802" width="3" height="1" fill="#007700"/><rect x="963" y="802" width="3" height="1" fill="#007700"/><rect x="967" y="802" width="3" height="1" fill="#007700"/><rect x="971" y="802" width="3" height="1" fill="#007700"/><rect x="976" y="803" width="3" height="1" fill="#007700"/><rect x="980" y="802" width="3" height="1" fill="#007700"/><rect x="984" y="802" width="3" height="1" fill="#007700"/><rect x="988" y="802" width="3" height="1" fill="#007700"/><rect x="992" y="802" width="3" height="1" fill="#007700"/><rect x="997" y="802" width="3" height="1" fill="#007700"/><rect x="1001" y="802" width="3" height="1" fill="#007700"/><rect x="1005" y="802" width="3" height="1" fill="#007700"/><rect x="1009" y="802" width="3" height="1" fill="#007700"/><rect x="1013" y="802" width="3" height="1" fill="#007700"/><rect x="1018" y="802" width="3" height="1" fill="#007700"/><rect x="1022" y="802" width="3" height="1" fill="#007700"/><rect x="1026" y="798" width="3" height="5" fill="#007700"/><rect x="1030" y="796" width="3" height="7" fill="#007700"/><rect x="1034" y="794" width="3" height="9" fill="#007700"/><rect x="1039" y="792" width="3" height="11" fill="#007700"/><rect x="1043" y="791" width="3" height="12" fill="#007700"/><rect x="1047" y="790" width="3" height="13" fill="#007700"/><rect x="1051" y="791" width="3" height="12" fill="#007700"/><rect x="1055" y="792" width="3" height="11" fill="#007700"/><rect x="1060" y="794" width="3" height="9" fill="#007700"/><rect x="1064" y="796" width="3" height="7" fill="#007700"/><rect x="1068" y="798" width="3" height="5" fill="#007700"/><rect x="1072" y="799" width="3" height="4" fill="#007700"/><rect x="1076" y="800" width="3" height="3" fill="#007700"/><rect x="1081" y="798" width="3" height="5" fill="#007700"/><rect x="1085" y="796" width="3" height="7" fill="#007700"/><rect x="1089" y="793" width="3" height="10" fill="#007700"/><rect x="1093" y="790" width="3" height="13" fill="#007700"/><rect x="1097" y="782" width="3" height="21" fill="#007700"/><rect x="1102" y="789" width="3" height="14" fill="#007700"/><rect x="1106" y="793" width="3" height="10" fill="#007700"/><rect x="1110" y="793" width="3" height="10" fill="#007700"/><rect x="1114" y="794" width="3" height="9" fill="#007700"/><rect x="1118" y="797" width="3" height="6" fill="#007700"/><rect x="1123" y="800" width="3" height="3" fill="#007700"/><rect x="1127" y="802" width="3" height="1" fill="#007700"/><rect x="1131" y="803" width="3" height="4" fill="#007700"/><rect x="1135" y="803" width="3" height="9" fill="#007700"/><rect x="1139" y="803" width="3" height="12" fill="#007700"/><rect x="1144" y="803" width="3" height="14" fill="#007700"/><rect x="1148" y="803" width="3" height="14" fill="#007700"/><rect x="1152" y="803" width="3" height="14" fill="#007700"/><rect x="1156" y="803" width="3" height="13" fill="#007700"/><rect x="1160" y="803" width="3" height="13" fill="#007700"/><rect x="1165" y="803" width="3" height="15" fill="#007700"/><rect x="1169" y="803" width="3" height="20" fill="#007700"/><polyline points="48.5,785.2 52.5,782.5 57.5,779.5 61.5,777.4 65.5,775.6 69.5,773.9 73.5,772.8 78.5,772.2 82.5,772.0 86.5,772.4 90.5,773.1 94.5,774.3 99.5,776.3 103.5,778.3 107.5,780.4 111.5,782.5 115.5,784.6 120.5,787.9 124.5,791.0 128.5,794.8 132.5,797.2 136.5,798.9 141.5,800.4 145.5,801.3 149.5,801.7 153.5,801.9 157.5,802.1 162.5,802.9 166.5,803.8 170.5,805.1 174.5,806.6 178.5,808.2 183.5,810.2 187.5,811.6 191.5,812.9 195.5,814.2 199.5,815.3 204.5,816.6 208.5,817.6 212.5,818.8 216.5,820.2 220.5,821.5 225.5,823.1 229.5,823.8 233.5,823.7 237.5,823.5 241.5,823.2 246.5,822.8 250.5,822.4 254.5,822.1 258.5,821.8 262.5,821.2 267.5,819.9 271.5,818.4 275.5,816.4 279.5,814.3 283.5,812.1 288.5,809.6 292.5,807.8 296.5,806.4 300.5,805.2 304.5,803.7 309.5,801.4 313.5,799.6 317.5,797.9 321.5,796.4 325.5,795.2 330.5,794.0 334.5,793.4 338.5,793.0 342.5,792.6 346.5,792.5 351.5,792.5 355.5,792.5 359.5,792.5 363.5,792.6 367.5,792.8 372.5,793.1 376.5,793.3 380.5,793.5 384.5,793.7 388.5,793.5 393.5,793.0 397.5,792.7 401.5,792.3 405.5,792.0 409.5,791.7 414.5,791.4 418.5,791.3 422.5,791.1 426.5,790.8 430.5,790.5 435.5,789.8 439.5,789.2 443.5,788.6 447.5,788.0 451.5,787.6 456.5,787.5 460.5,787.7 464.5,787.8 468.5,788.0 472.5,788.2 477.5,788.4 481.5,788.5 485.5,788.8 489.5,789.0 493.5,789.4 498.5,789.8 502.5,790.3 506.5,790.8 510.5,791.4 514.5,792.9 519.5,795.1 523.5,796.4 527.5,797.0 531.5,797.4 535.5,797.4 540.5,796.9 544.5,796.2 548.5,795.4 552.5,794.2 556.5,792.5 561.5,790.0 565.5,787.3 569.5,784.5 573.5,781.9 577.5,779.3 582.5,776.8 586.5,775.2 590.5,774.0 594.5,773.1 598.5,772.6 603.5,772.8 607.5,773.6 611.5,774.6 615.5,775.5 619.5,776.4 624.5,777.7 628.5,778.8 632.5,779.8 636.5,780.8 640.5,781.9 645.5,783.3 649.5,784.7 653.5,786.3 657.5,787.7 661.5,788.6 666.5,789.4 670.5,789.7 674.5,789.3 678.5,788.8 682.5,788.5 687.5,788.2 691.5,787.9 695.5,787.7 699.5,787.6 703.5,787.5 708.5,787.5 712.5,787.5 716.5,787.5 720.5,787.8 724.5,788.5 729.5,789.6 733.5,790.5 737.5,791.6 741.5,792.8 745.5,794.0 750.5,795.8 754.5,797.0 758.5,797.5 762.5,797.5 766.5,797.5 771.5,797.5 775.5,797.5 779.5,797.3 783.5,796.9 787.5,796.5 792.5,796.3 796.5,796.5 800.5,796.8 804.5,797.1 808.5,797.5 813.5,798.2 817.5,798.8 821.5,799.3 825.5,799.6 830.5,799.3 834.5,798.3 838.5,796.9 842.5,795.2 846.5,792.6 851.5,788.8 855.5,785.0 859.5,781.5 863.5,778.2 867.5,776.0 872.5,774.0 876.5,773.3 880.5,773.5 884.5,773.9 888.5,774.4 893.5,774.9 897.5,775.4 901.5,776.1 905.5,776.9 909.5,777.9 914.5,779.7 918.5,782.1 922.5,785.4 926.5,788.6 930.5,791.4 935.5,794.5 939.5,796.1 943.5,797.0 947.5,797.6 951.5,797.6 956.5,797.6 960.5,797.6 964.5,797.5 968.5,797.4 972.5,797.3 977.5,796.9 981.5,796.6 985.5,796.2 989.5,796.0 993.5,795.8 998.5,795.5 1002.5,795.3 1006.5,795.1 1010.5,795.0 1014.5,794.9 1019.5,794.7 1023.5,794.4 1027.5,793.3 1031.5,791.5 1035.5,789.6 1040.5,787.1 1044.5,784.9 1048.5,782.6 1052.5,780.3 1056.5,778.1 1061.5,775.4 1065.5,773.4 1069.5,772.2 1073.5,771.3 1077.5,770.3 1082.5,768.4 1086.5,766.3 1090.5,763.3 1094.5,758.9 1098.5,755.0 1103.5,751.3 1107.5,748.8 1111.5,746.9 1115.5,745.1 1119.5,743.7 1124.5,743.3 1128.5,743.6 1132.5,744.3 1136.5,747.0 1140.5,750.8 1145.5,755.4 1149.5,759.5 1153.5,763.6 1157.5,767.6 1161.5,771.6 1166.5,776.6 1170.5,780.6" fill="none" stroke="#ff00ff" stroke-width="1.2"/><polyline points="48.5,773.2 52.5,771.3 57.5,770.5 61.5,768.4 65.5,766.7 69.5,767.4 73.5,768.4 78.5,769.3 82.5,771.0 86.5,774.1 90.5,776.2 94.5,778.3 99.5,782.9 103.5,785.7 107.5,787.9 111.5,789.9 115.5,793.3 120.5,799.0 124.5,806.2 128.5,810.3 132.5,809.1 136.5,807.5 141.5,805.7 145.5,804.1 149.5,802.2 153.5,801.3 157.5,802.3 162.5,804.6 166.5,807.3 170.5,810.4 174.5,813.1 178.5,814.8 183.5,816.6 187.5,817.7 191.5,818.7 195.5,819.6 199.5,820.1 204.5,820.6 208.5,821.3 212.5,823.0 216.5,824.9 220.5,827.0 225.5,828.3 229.5,828.3 233.5,824.1 237.5,822.7 241.5,821.8 246.5,821.5 250.5,821.5 254.5,821.2 258.5,819.8 262.5,818.2 267.5,814.1 271.5,810.9 275.5,808.2 279.5,805.9 283.5,803.9 288.5,802.3 292.5,801.1 296.5,799.4 300.5,797.2 304.5,795.3 309.5,793.2 313.5,791.9 317.5,790.8 321.5,790.3 325.5,790.3 330.5,790.3 334.5,790.3 338.5,790.6 342.5,791.2 346.5,791.6 351.5,791.9 355.5,792.2 359.5,792.5 363.5,792.8 367.5,793.2 372.5,793.6 376.5,793.9 380.5,794.1 384.5,794.2 388.5,793.7 393.5,792.5 397.5,791.2 401.5,790.3 405.5,790.4 409.5,790.6 414.5,790.8 418.5,790.8 422.5,790.8 426.5,790.8 430.5,789.6 435.5,787.4 439.5,786.3 443.5,785.6 447.5,785.4 451.5,786.0 456.5,786.9 460.5,787.6 464.5,788.3 468.5,789.0 472.5,789.6 477.5,790.1 481.5,790.3 485.5,789.2 489.5,790.2 493.5,791.4 498.5,791.7 502.5,792.1 506.5,792.7 510.5,793.9 514.5,797.2 519.5,801.7 523.5,803.2 527.5,801.3 531.5,799.4 535.5,797.8 540.5,795.8 544.5,794.3 548.5,792.4 552.5,789.2 556.5,787.1 561.5,784.0 565.5,779.4 569.5,774.0 573.5,770.1 577.5,767.6 582.5,767.6 586.5,767.9 590.5,768.2 594.5,769.0 598.5,770.5 603.5,773.4 607.5,776.5 611.5,778.4 615.5,779.8 619.5,781.0 624.5,782.6 628.5,783.9 632.5,785.1 636.5,786.2 640.5,787.1 645.5,788.0 649.5,789.0 653.5,791.7 657.5,792.0 661.5,792.1 666.5,792.0 670.5,790.5 674.5,788.7 678.5,787.5 682.5,787.8 687.5,787.9 691.5,786.9 695.5,786.7 699.5,787.0 703.5,787.2 708.5,787.1 712.5,787.1 716.5,788.6 720.5,790.1 724.5,790.8 729.5,792.2 733.5,795.0 737.5,796.9 741.5,798.3 745.5,799.6 750.5,801.1 754.5,801.7 758.5,801.0 762.5,799.1 766.5,797.5 771.5,796.3 775.5,795.8 779.5,795.8 783.5,795.8 787.5,794.8 792.5,794.9 796.5,795.3 800.5,797.0 804.5,799.1 808.5,799.6 813.5,800.0 817.5,800.5 821.5,801.5 825.5,802.0 830.5,799.0 834.5,795.8 838.5,792.4 842.5,788.1 846.5,781.9 851.5,773.3 855.5,768.5 859.5,765.5 863.5,764.7 867.5,767.0 872.5,769.2 876.5,770.8 880.5,773.1 884.5,775.2 888.5,775.8 893.5,776.4 897.5,778.7 901.5,780.3 905.5,781.5 909.5,783.0 914.5,786.1 918.5,791.9 922.5,798.1 926.5,800.5 930.5,801.6 935.5,803.0 939.5,802.9 943.5,801.2 947.5,799.8 951.5,798.7 956.5,797.8 960.5,797.2 964.5,796.8 968.5,796.7 972.5,797.0 977.5,797.4 981.5,796.5 985.5,795.2 989.5,794.8 993.5,794.6 998.5,794.5 1002.5,794.5 1006.5,794.5 1010.5,794.5 1014.5,794.5 1019.5,794.5 1023.5,794.2 1027.5,788.4 1031.5,784.2 1035.5,780.5 1040.5,776.3 1044.5,772.7 1048.5,769.5 1052.5,767.8 1056.5,766.8 1061.5,766.2 1065.5,766.3 1069.5,767.0 1073.5,767.6 1077.5,767.0 1082.5,763.3 1086.5,759.2 1090.5,753.6 1094.5,745.9 1098.5,734.4 1103.5,737.5 1107.5,738.4 1111.5,737.0 1115.5,736.1 1119.5,737.3 1124.5,740.6 1128.5,743.7 1132.5,748.3 1136.5,756.2 1140.5,763.0 1145.5,768.9 1149.5,773.2 1153.5,777.2 1157.5,781.0 1161.5,784.7 1166.5,791.8 1170.5,800.5" fill="none" stroke="#2020ff" stroke-width="1.2"/><text x="1176" y="718.5" font-size="12" fill="#000" style="filter:grayscale(0%)">0,3</text><text x="1176" y="747.5" font-size="12" fill="#000" style="filter:grayscale(0%)">0,2</text><text x="1176" y="777.5" font-size="12" fill="#000" style="filter:grayscale(0%)">0,1</text><text x="1176" y="806.5" font-size="12" fill="#000" style="filter:grayscale(0%)">0,0</text><text x="1176" y="836.5" font-size="12" fill="#000" style="filter:grayscale(0%)">-0,1</text><text x="1176" y="866.5" font-size="12" fill="#000" style="filter:grayscale(0%)">-0,2</text><ellipse cx="1070.5" cy="632" rx="58" ry="66.5" fill="none" stroke="#80000f" stroke-width="3" shape-rendering="crispEdges"/><text x="836.5" y="566.2" font-size="15" font-weight="bold" fill="#000" textLength="313" lengthAdjust="spacingAndGlyphs">starker Hype nach Corona-Lockerungen und</text><text x="836.5" y="584" font-size="15" font-weight="bold" fill="#000" textLength="343" lengthAdjust="spacingAndGlyphs">besseren Reisemöglichkeiten in der Corona-Zeit</text><text x="968" y="731" font-size="15" font-weight="bold" fill="#800000">starke Überhitzung</text><ellipse cx="1130" cy="737.3" rx="22.3" ry="26" fill="none" stroke="#80000f" stroke-width="3" shape-rendering="crispEdges"/><text x="1173" y="771" font-size="15" font-weight="bold" fill="#800000" textLength="74.5" lengthAdjust="spacingAndGlyphs">Abkühlung</text></svg></body></html>
